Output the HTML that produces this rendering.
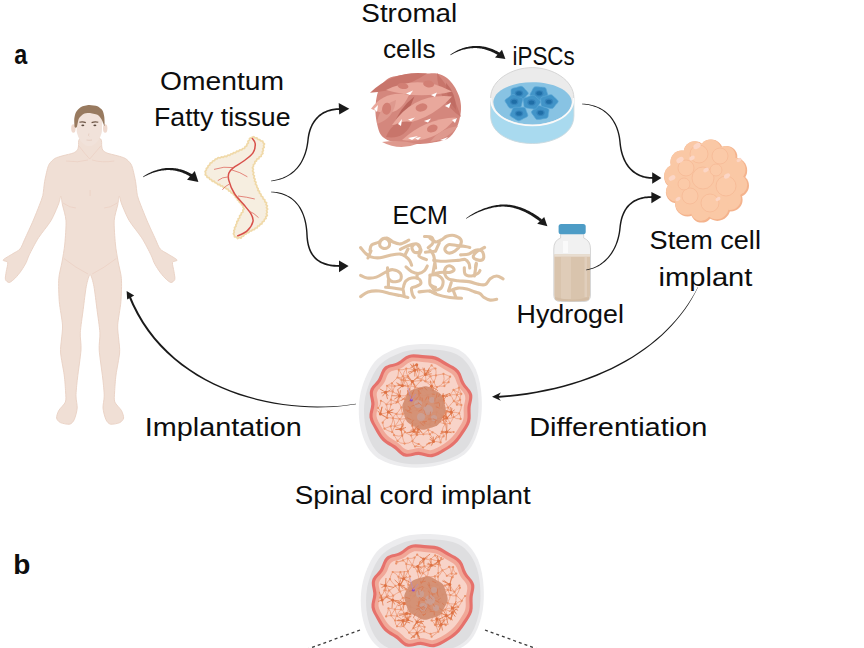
<!DOCTYPE html>
<html><head><meta charset="utf-8">
<style>
html,body{margin:0;padding:0;background:#fff;}
body{width:864px;height:648px;overflow:hidden;position:relative;}
svg{position:absolute;left:0;top:0;}
text{font-family:"Liberation Sans",sans-serif;fill:#0d0d0d;}
</style></head><body>
<svg width="864" height="648" viewBox="0 0 864 648">
<rect width="864" height="648" fill="#fff"/>
<path d="M90.1,138.0 C87.3,138.0 81.0,137.9 79.5,139.0 C78.0,140.1 78.8,144.5 78.5,146.0 C78.2,147.5 78.2,149.1 77.5,150.0 C76.8,150.9 75.2,152.2 73.3,153.0 C71.4,153.8 65.5,155.0 63.0,155.7 C60.5,156.4 56.6,157.4 54.8,158.5 C53.0,159.6 50.3,162.4 49.3,164.0 C48.3,165.6 47.6,168.1 47.0,170.5 C46.4,172.9 45.2,178.4 44.6,181.7 C44.0,185.0 43.5,192.3 42.8,195.5 C42.1,198.7 40.6,202.0 39.3,205.4 C38.0,208.8 35.0,216.3 33.1,220.8 C31.2,225.3 26.4,235.5 24.7,239.3 C23.0,243.1 21.7,247.0 20.0,249.0 C18.3,251.0 14.6,252.5 12.3,254.0 C10.0,255.5 3.7,258.9 3.1,260.0 C2.5,261.1 7.3,260.9 7.7,262.5 C8.1,264.1 6.5,269.4 6.2,271.7 C5.9,274.0 5.0,278.0 5.4,279.4 C5.8,280.8 8.0,282.7 9.3,282.5 C10.6,282.3 13.8,279.5 15.4,277.9 C17.0,276.3 20.2,272.3 21.6,270.2 C23.0,268.1 25.2,264.6 26.2,262.5 C27.2,260.4 27.7,258.1 29.3,254.8 C30.9,251.5 35.6,242.3 38.5,237.8 C41.4,233.3 48.2,225.3 50.9,220.8 C53.6,216.3 57.3,207.2 58.6,203.9 C59.9,200.6 60.4,196.1 60.9,196.2 C61.4,196.3 61.8,201.7 62.5,205.0 C63.2,208.3 65.7,215.6 66.0,220.8 C66.3,226.0 65.3,238.5 64.8,244.0 C64.3,249.5 62.8,257.4 62.0,262.0 C61.2,266.6 59.2,273.3 58.8,278.6 C58.4,283.9 58.8,295.6 59.3,301.8 C59.8,308.0 62.2,319.9 62.5,325.0 C62.8,330.1 61.7,336.3 61.4,340.0 C61.1,343.7 60.2,348.3 60.6,353.0 C61.0,357.7 63.5,369.8 64.2,375.0 C64.9,380.2 65.4,388.4 65.6,392.0 C65.8,395.6 66.3,399.6 65.4,402.0 C64.5,404.4 60.1,408.2 58.9,410.3 C57.7,412.4 56.4,416.4 56.6,418.0 C56.8,419.6 58.7,421.8 60.4,422.6 C62.1,423.4 67.8,424.6 69.7,424.2 C71.6,423.8 73.3,421.7 74.3,419.5 C75.3,417.3 77.0,411.1 77.2,408.0 C77.4,404.9 76.0,400.0 76.0,396.0 C76.0,392.0 76.8,384.1 77.5,378.0 C78.2,371.9 80.6,356.0 81.0,350.0 C81.4,344.0 80.0,338.1 80.3,332.7 C80.6,327.3 82.4,315.7 83.2,309.5 C84.0,303.3 85.4,291.0 86.3,286.3 C87.2,281.6 89.1,274.5 90.1,274.5 C91.1,274.5 93.0,281.6 93.9,286.3 C94.8,291.0 96.2,303.3 97.0,309.5 C97.8,315.7 99.6,327.3 99.9,332.7 C100.2,338.1 98.8,344.0 99.2,350.0 C99.6,356.0 102.0,371.9 102.7,378.0 C103.4,384.1 104.2,392.0 104.2,396.0 C104.2,400.0 102.8,404.9 103.0,408.0 C103.2,411.1 104.9,417.3 105.9,419.5 C106.9,421.7 108.6,423.8 110.5,424.2 C112.4,424.6 118.1,423.4 119.8,422.6 C121.5,421.8 123.4,419.6 123.6,418.0 C123.8,416.4 122.5,412.4 121.3,410.3 C120.1,408.2 115.7,404.4 114.8,402.0 C113.9,399.6 114.4,395.6 114.6,392.0 C114.8,388.4 115.3,380.2 116.0,375.0 C116.7,369.8 119.2,357.7 119.6,353.0 C120.0,348.3 119.1,343.7 118.8,340.0 C118.5,336.3 117.4,330.1 117.7,325.0 C118.0,319.9 120.4,308.0 120.9,301.8 C121.4,295.6 121.8,283.9 121.4,278.6 C121.0,273.3 119.0,266.6 118.2,262.0 C117.4,257.4 115.9,249.5 115.4,244.0 C114.9,238.5 113.9,226.0 114.2,220.8 C114.5,215.6 117.0,208.3 117.7,205.0 C118.4,201.7 118.8,196.3 119.3,196.2 C119.8,196.1 120.3,200.6 121.6,203.9 C122.9,207.2 126.6,216.3 129.3,220.8 C132.0,225.3 138.8,233.3 141.7,237.8 C144.6,242.3 149.3,251.5 150.9,254.8 C152.5,258.1 153.0,260.4 154.0,262.5 C155.0,264.6 157.2,268.1 158.6,270.2 C160.0,272.3 163.2,276.3 164.8,277.9 C166.4,279.5 169.6,282.3 170.9,282.5 C172.2,282.7 174.4,280.8 174.8,279.4 C175.2,278.0 174.3,274.0 174.0,271.7 C173.7,269.4 172.1,264.1 172.5,262.5 C172.9,260.9 177.7,261.1 177.1,260.0 C176.5,258.9 170.2,255.5 167.9,254.0 C165.6,252.5 161.9,251.0 160.2,249.0 C158.5,247.0 157.2,243.1 155.5,239.3 C153.8,235.5 149.0,225.3 147.1,220.8 C145.2,216.3 142.2,208.8 140.9,205.4 C139.6,202.0 138.1,198.7 137.4,195.5 C136.7,192.3 136.2,185.0 135.6,181.7 C135.0,178.4 133.8,172.9 133.2,170.5 C132.6,168.1 131.9,165.6 130.9,164.0 C129.9,162.4 127.2,159.6 125.4,158.5 C123.6,157.4 119.7,156.4 117.2,155.7 C114.7,155.0 108.8,153.8 106.9,153.0 C105.0,152.2 103.4,150.9 102.7,150.0 C102.0,149.1 102.0,147.5 101.7,146.0 C101.4,144.5 102.2,140.1 100.7,139.0 C99.2,137.9 92.9,138.0 90.1,138.0Z" fill="#f0dfd5" stroke="#e9d0c3" stroke-width="0.9"/>
<ellipse cx="73.4" cy="128.5" rx="2.2" ry="4.2" fill="#efd9ce"/>
<ellipse cx="105.2" cy="128.5" rx="2.2" ry="4.2" fill="#efd9ce"/>
<path d="M89.3,112.5 C86.5,112.5 81.9,112.4 80.0,113.5 C78.1,114.6 77.1,117.8 76.6,120.0 C76.1,122.2 76.5,126.0 76.6,128.0 C76.7,129.9 76.5,131.2 77.0,133.0 C77.5,134.8 78.7,138.1 79.8,139.8 C80.9,141.5 83.0,143.5 84.4,144.4 C85.8,145.3 87.8,146.0 89.3,146.0 C90.8,146.0 92.8,145.3 94.2,144.4 C95.6,143.5 97.7,141.5 98.8,139.8 C99.9,138.1 101.1,134.8 101.6,133.0 C102.1,131.2 101.9,129.9 102.0,128.0 C102.1,126.0 102.5,122.2 102.0,120.0 C101.5,117.8 100.5,114.6 98.6,113.5 C96.7,112.4 92.1,112.5 89.3,112.5Z" fill="#f1e2da"/>
<path d="M74.7,127.0 C74.4,126.0 74.1,120.2 74.3,118.5 C74.5,116.8 75.3,113.3 76.1,112.0 C76.9,110.7 79.5,107.8 81.0,107.0 C82.5,106.2 87.1,105.1 89.0,105.0 C90.9,104.9 95.9,105.7 97.5,106.3 C99.1,106.9 101.7,109.3 102.5,110.5 C103.3,111.7 104.1,115.2 104.3,117.0 C104.5,118.8 104.8,125.7 104.5,126.0 C104.2,126.3 102.4,120.7 101.6,119.4 C100.8,118.1 98.8,115.5 97.4,114.8 C96.0,114.1 90.9,113.1 89.3,113.0 C87.7,112.9 84.7,113.3 83.5,113.9 C82.3,114.5 79.7,117.0 78.9,118.5 C78.1,120.0 77.3,126.0 76.8,127.0 C76.3,128.0 75.0,128.0 74.7,127.0Z" fill="#987a5f"/>
<path d="M79.4,122.3 Q82.5,121.3 85.8,122.6 M91.6,122.6 Q95,121.3 98.3,122.3" stroke="#6e5646" stroke-width="1.2" fill="none"/>
<ellipse cx="82.8" cy="125.3" rx="1.5" ry="0.9" fill="#5c4a3e"/><ellipse cx="94.9" cy="125.3" rx="1.5" ry="0.9" fill="#5c4a3e"/>
<path d="M88.9,133.5 Q88,136 89.3,136.3 M86.5,140 Q89.3,140.6 92,140" stroke="#e2c7ba" stroke-width="0.7" fill="none"/>
<g stroke="#ebcfc1" stroke-width="0.7" fill="none"><path d="M79,146 Q85,154 89.7,159 Q94,154 100.8,146"/><path d="M66,161 Q78,163 88,160 M92.2,160 Q102,163 114.2,161"/><path d="M63,203 Q70,208 76,208 M117.2,203 Q110,208 104.2,208"/><path d="M63.9,258.5 Q76,268 88,274 M116.3,258.5 Q104,268 92.2,274"/><path d="M90.1,190 L90.1,196"/></g>
<path d="M252.0,137.4 L253.7,136.7 L255.0,138.0 L256.8,137.8 L257.8,139.5 L259.6,139.6 L260.8,140.9 L262.7,141.1 L263.2,142.9 L264.5,144.0 L263.5,145.6 L264.2,147.4 L262.7,148.7 L263.4,150.5 L262.3,151.9 L262.9,153.6 L261.4,154.6 L261.2,156.5 L259.3,156.8 L258.8,158.7 L256.8,159.1 L256.5,160.9 L254.9,161.6 L254.9,163.6 L253.4,164.6 L253.5,166.3 L252.4,167.7 L253.4,169.3 L252.5,171.0 L253.8,172.6 L253.0,174.5 L254.4,175.9 L253.7,177.8 L255.1,179.2 L254.5,181.0 L256.0,182.2 L255.4,184.2 L256.8,185.4 L256.9,187.3 L258.2,188.6 L257.9,190.4 L259.5,191.3 L259.4,193.1 L261.0,194.2 L261.1,196.1 L262.8,197.0 L263.1,198.9 L264.8,199.8 L264.8,201.7 L266.6,202.8 L266.0,204.6 L267.4,205.9 L266.4,207.6 L267.7,209.1 L266.5,210.7 L267.3,212.3 L266.3,213.8 L267.3,215.5 L265.7,216.7 L266.1,218.5 L264.4,219.3 L264.1,221.2 L262.3,221.9 L261.9,223.8 L260.2,224.2 L259.4,225.8 L257.7,226.0 L257.2,227.9 L255.3,228.0 L254.4,229.6 L252.6,229.5 L251.5,230.9 L249.8,231.0 L248.8,232.6 L246.9,232.4 L246.1,234.0 L244.3,234.5 L243.5,236.1 L241.8,236.4 L241.0,238.1 L239.3,237.5 L237.6,238.6 L236.4,236.9 L234.5,237.0 L234.3,235.1 L233.4,233.7 L234.3,232.2 L233.8,230.5 L234.8,229.2 L234.5,227.5 L236.0,226.4 L235.8,224.7 L236.9,223.5 L236.8,221.5 L238.4,220.5 L238.1,218.7 L239.8,217.8 L239.6,215.8 L241.2,214.8 L241.3,212.9 L243.0,212.0 L242.8,210.2 L244.2,208.8 L243.0,207.3 L243.4,205.4 L241.6,204.8 L241.2,203.0 L239.4,202.4 L239.0,200.7 L237.4,199.9 L237.3,198.0 L235.5,197.5 L235.1,195.6 L233.5,194.8 L232.9,193.2 L231.2,192.8 L230.4,191.1 L228.6,190.8 L228.0,189.0 L226.2,188.8 L225.2,187.3 L223.3,187.5 L222.4,185.9 L220.6,186.0 L219.6,184.3 L217.8,184.6 L216.8,183.1 L215.2,182.7 L214.3,181.2 L212.2,181.3 L211.5,179.6 L209.8,179.4 L209.1,177.7 L207.1,177.4 L206.7,175.7 L205.2,174.8 L205.7,173.1 L205.1,171.4 L206.4,170.2 L206.3,168.5 L207.9,167.5 L208.1,165.7 L209.7,165.0 L210.1,163.1 L211.9,162.7 L212.6,161.0 L214.5,160.7 L215.3,159.0 L217.0,158.8 L218.2,157.5 L220.0,158.0 L221.5,156.9 L223.2,157.4 L224.7,156.2 L226.7,156.6 L227.9,155.0 L229.7,155.4 L230.8,153.9 L232.6,154.0 L233.6,152.5 L235.5,152.9 L236.6,151.2 L238.5,151.3 L239.8,149.9 L241.7,150.0 L242.7,148.5 L244.5,148.5 L245.1,146.6 L246.8,146.0 L246.9,144.2 L248.4,143.0 L247.9,141.2 L249.5,140.3 L249.5,138.4 L251.0,137.7Z" fill="#f6eee0" stroke="#f0d9a8" stroke-width="1.7" stroke-linejoin="round"/>
<path d="M252.0,138.0 C252.5,138.9 255.0,141.0 255.2,143.5 C255.4,146.0 254.9,149.9 253.0,152.8 C251.1,155.7 246.9,158.5 243.7,161.0 C240.4,163.5 236.0,165.6 233.5,167.6 C231.0,169.6 229.7,170.8 228.9,173.0 C228.1,175.2 228.0,177.2 228.9,180.6 C229.8,184.0 231.9,189.5 234.4,193.5 C236.9,197.5 240.9,201.2 243.7,204.6 C246.5,208.0 249.4,211.1 251.0,213.9 C252.6,216.7 253.6,218.5 253.0,221.3 C252.4,224.1 250.0,228.1 247.4,230.6 C244.8,233.1 238.9,235.2 237.2,236.1" fill="none" stroke="#d8504a" stroke-width="1.5"/>
<g stroke="#de6a60" stroke-width="0.8" fill="none"><path d="M233.5,167.6 Q224,166 214,169.4"/><path d="M228.9,176.8 Q222,177 217.8,180.6"/><path d="M229.5,184 Q225,186 222.4,189.8"/><path d="M232,170 Q240,172 247.4,176.8"/><path d="M238,196 Q247,197 254.8,199"/><path d="M249,211 Q254,213 258.5,217.6"/></g>
<path d="M393.4,76.6 C397.3,75.5 402.9,74.7 408.2,74.2 C413.5,73.7 420.2,73.6 425.0,73.5 C429.8,73.4 433.3,72.8 437.0,73.5 C440.7,74.2 444.2,75.9 447.0,78.0 C449.8,80.1 452.0,83.0 454.0,86.0 C456.0,89.0 457.8,92.7 459.0,96.0 C460.2,99.3 460.8,102.5 461.0,106.0 C461.2,109.5 460.8,113.2 460.0,117.0 C459.2,120.8 458.2,125.3 456.0,129.0 C453.8,132.7 451.3,136.7 447.0,139.0 C442.7,141.3 435.0,142.2 430.0,143.0 C425.0,143.8 421.4,144.0 416.9,144.0 C412.4,144.0 407.5,143.5 403.0,143.0 C398.5,142.5 393.7,142.3 390.0,141.0 C386.3,139.7 383.1,137.7 381.0,135.0 C378.9,132.3 378.2,128.7 377.3,125.0 C376.4,121.3 375.7,117.0 375.5,113.0 C375.3,109.0 375.4,105.0 376.0,101.0 C376.6,97.0 377.5,92.3 379.0,89.0 C380.5,85.7 382.6,83.1 385.0,81.0 C387.4,78.9 389.5,77.7 393.4,76.6Z" fill="#d4877d"/>
<path d="M370.0,92.7 Q401.1,90.7 427.0,73.5 Q394.0,69.8 370.0,92.7Z" fill="#c8756b"/>
<path d="M437.0,73.0 Q437.6,101.2 461.0,117.0 Q453.4,92.6 437.0,73.0Z" fill="#c8756b"/>
<path d="M446.0,82.8 Q445.4,98.5 456.0,110.0 Q456.6,94.3 446.0,82.8Z" fill="#c06c63"/>
<path d="M386.0,90.0 Q418.8,99.7 452.0,91.5 Q419.4,73.8 386.0,90.0Z" fill="#e9a89c"/>
<path d="M371.0,108.7 Q397.1,121.6 409.0,95.0 Q385.6,89.6 371.0,108.7Z" fill="#e9a89c"/>
<path d="M377.0,124.0 Q394.3,118.2 396.0,100.0 Q378.7,105.8 377.0,124.0Z" fill="#de998e"/>
<path d="M393.4,126.0 Q408.5,114.4 414.4,96.4 Q399.3,108.0 393.4,126.0Z" fill="#b9645b"/>
<path d="M392.0,125.0 Q428.0,123.3 452.0,96.4 Q413.4,92.6 392.0,125.0Z" fill="#e9a89c"/>
<path d="M386.0,137.0 Q405.0,139.9 412.0,122.0 Q393.0,119.1 386.0,137.0Z" fill="#c8756b"/>
<path d="M402.0,140.0 Q435.6,144.4 456.0,117.4 Q424.8,118.6 402.0,140.0Z" fill="#e9a89c"/>
<path d="M382.0,142.0 Q399.0,151.0 417.0,144.0 Q399.7,139.0 382.0,142.0Z" fill="#de998e"/>
<path d="M430.0,142.0 Q447.5,140.1 458.0,126.0 Q440.5,127.9 430.0,142.0Z" fill="#de998e"/>
<ellipse cx="403" cy="86" rx="5.5" ry="3" fill="#d27f74" transform="rotate(10 403 86)"/>
<ellipse cx="428.6" cy="84" rx="5.5" ry="3.5" fill="#d27f74" transform="rotate(10 428.6 84)"/>
<ellipse cx="386.6" cy="108.7" rx="4.5" ry="6" fill="#d27f74" transform="rotate(10 386.6 108.7)"/>
<ellipse cx="421.5" cy="107.5" rx="6" ry="4" fill="#d27f74" transform="rotate(-15 421.5 107.5)"/>
<ellipse cx="432.3" cy="128.5" rx="5.5" ry="3.8" fill="#d27f74" transform="rotate(-20 432.3 128.5)"/>
<g fill="#fff"><path d="M406,93.5 L413,90.5 L410,95Z"/><path d="M431,95 L437,92.5 L435,97Z"/><path d="M445,106 L451,102.5 L449,108Z"/><path d="M408,119.5 L415,117.5 L411,121Z"/><path d="M424,121 L431,118.5 L428,122.5Z"/><path d="M408,138 L418,136 L412,140Z"/><path d="M374,109 L378,105 L377,112Z"/><path d="M415,138 L421,137 L418,140Z"/><path d="M452,120 L457,118 L455,123Z"/><path d="M398,124 L402,119 L401,126Z"/><path d="M440,140 L448,137 L444,141Z"/></g>
<path d="M490.6,98 L490.6,116 C491,136 515,143.5 532.2,143.5 C549.5,143.5 573.5,136 573.9,116 L573.9,98Z" fill="#a9daef" stroke="#cbd9df" stroke-width="0.9"/>
<path d="M490.6,98 C490.6,80 512,67.6 532.2,67.6 C552.5,67.6 573.9,80 573.9,98 C573.5,118 549.5,125.5 532.2,125.5 C515,125.5 491,118 490.6,98Z" fill="#ebebeb" stroke="#d2d2d2" stroke-width="0.9"/>
<path d="M493.3,102 C494,90 512,82.2 532.4,82.2 C553,82.2 571,90 571.8,102 C571,117 549.5,124.5 532.2,124.5 C515,124.5 494,117 493.3,102Z" fill="#88c3e3"/>
<path d="M490.8,98 C491,118 515,125.5 532.2,125.5 C549.5,125.5 573.5,118 573.7,98" fill="none" stroke="#fafafa" stroke-width="1.7"/>
<path d="M528.3,93.3 C528.3,94.4 526.3,95.9 525.4,96.9 C524.4,98.0 523.2,99.9 521.9,100.2 C520.6,100.6 518.1,99.6 516.6,99.2 C515.0,98.8 512.3,98.5 511.5,97.6 C510.7,96.7 511.1,94.6 511.1,93.3 C511.1,92.0 510.7,89.9 511.5,89.0 C512.3,88.1 515.0,87.8 516.6,87.4 C518.1,87.0 520.6,86.0 521.9,86.4 C523.2,86.7 524.4,88.6 525.4,89.7 C526.3,90.7 528.3,92.2 528.3,93.3Z" fill="#4194c8" stroke="#5aa6d6" stroke-width="0.7"/>
<path d="M547.8,96.1 C547.2,97.1 544.7,97.9 543.3,98.6 C541.9,99.3 539.8,100.6 538.4,100.6 C537.0,100.5 535.3,98.8 534.0,98.0 C532.8,97.1 530.5,96.0 530.1,94.9 C529.8,93.9 531.3,92.1 531.9,90.9 C532.6,89.7 533.2,87.6 534.4,87.1 C535.6,86.5 538.2,87.0 539.9,87.1 C541.5,87.3 544.2,87.1 545.3,87.8 C546.3,88.5 546.5,90.7 546.9,91.9 C547.3,93.2 548.3,95.1 547.8,96.1Z" fill="#4194c8" stroke="#5aa6d6" stroke-width="0.7"/>
<path d="M520.7,106.9 C519.7,107.7 516.9,107.6 515.3,107.8 C513.7,108.0 511.1,108.6 509.9,108.1 C508.6,107.6 507.8,105.6 507.1,104.4 C506.4,103.3 504.8,101.5 505.0,100.5 C505.3,99.4 507.5,98.2 508.7,97.3 C509.9,96.4 511.5,94.6 512.9,94.5 C514.3,94.3 516.4,95.6 517.9,96.2 C519.3,96.8 521.9,97.5 522.5,98.5 C523.2,99.5 522.2,101.5 522.0,102.8 C521.7,104.0 521.7,106.2 520.7,106.9Z" fill="#4194c8" stroke="#5aa6d6" stroke-width="0.7"/>
<path d="M552.3,108.5 C551.0,108.9 548.5,108.0 546.9,107.7 C545.3,107.3 542.6,107.1 541.7,106.3 C540.8,105.5 541.1,103.3 541.0,102.0 C540.9,100.8 540.3,98.7 541.1,97.8 C541.8,96.8 544.5,96.4 546.0,95.9 C547.6,95.5 549.9,94.4 551.3,94.7 C552.6,94.9 554.0,96.8 555.0,97.8 C556.0,98.8 558.1,100.2 558.2,101.3 C558.3,102.4 556.4,104.0 555.5,105.0 C554.6,106.1 553.6,108.1 552.3,108.5Z" fill="#4194c8" stroke="#5aa6d6" stroke-width="0.7"/>
<path d="M518.7,120.8 C517.3,120.7 515.5,119.2 514.2,118.4 C512.9,117.6 510.5,116.6 510.1,115.5 C509.7,114.5 511.0,112.6 511.6,111.4 C512.1,110.2 512.6,108.1 513.8,107.5 C514.9,106.9 517.6,107.3 519.2,107.3 C520.9,107.4 523.6,107.1 524.7,107.7 C525.8,108.4 526.1,110.5 526.6,111.8 C527.0,113.0 528.2,114.9 527.8,116.0 C527.3,117.0 524.8,117.9 523.4,118.6 C522.1,119.3 520.1,120.8 518.7,120.8Z" fill="#4194c8" stroke="#5aa6d6" stroke-width="0.7"/>
<path d="M536.7,119.4 C535.5,119.0 534.5,117.0 533.7,115.8 C532.9,114.7 531.2,113.0 531.4,112.0 C531.5,110.9 533.7,109.6 534.8,108.6 C535.9,107.7 537.4,105.9 538.8,105.7 C540.1,105.4 542.4,106.7 543.9,107.2 C545.4,107.7 548.0,108.3 548.7,109.2 C549.4,110.2 548.6,112.2 548.4,113.5 C548.2,114.8 548.4,116.9 547.4,117.7 C546.5,118.5 543.8,118.6 542.2,118.9 C540.6,119.1 538.0,119.9 536.7,119.4Z" fill="#4194c8" stroke="#5aa6d6" stroke-width="0.7"/>
<path d="M524.6,107.3 C523.7,106.5 523.9,104.4 523.7,103.1 C523.5,101.8 522.7,99.8 523.4,98.8 C524.1,97.9 526.7,97.3 528.2,96.8 C529.7,96.2 532.0,95.0 533.4,95.3 C534.7,95.5 536.2,97.3 537.3,98.2 C538.4,99.2 540.6,100.5 540.7,101.6 C540.9,102.7 539.2,104.3 538.4,105.4 C537.6,106.6 536.6,108.6 535.4,109.0 C534.1,109.5 531.5,108.7 529.9,108.5 C528.3,108.2 525.6,108.1 524.6,107.3Z" fill="#4194c8" stroke="#5aa6d6" stroke-width="0.7"/>
<ellipse cx="519" cy="93.3" rx="4.2" ry="3.1" fill="#3583bb"/>
<ellipse cx="519" cy="93.3" rx="2.8" ry="2" fill="#1f6ea6"/>
<ellipse cx="539.2" cy="93.3" rx="4.2" ry="3.1" fill="#3583bb"/>
<ellipse cx="539.2" cy="93.3" rx="2.8" ry="2" fill="#1f6ea6"/>
<ellipse cx="514.2" cy="101.7" rx="4.2" ry="3.1" fill="#3583bb"/>
<ellipse cx="514.2" cy="101.7" rx="2.8" ry="2" fill="#1f6ea6"/>
<ellipse cx="548.9" cy="101.7" rx="4.2" ry="3.1" fill="#3583bb"/>
<ellipse cx="548.9" cy="101.7" rx="2.8" ry="2" fill="#1f6ea6"/>
<ellipse cx="519" cy="113.5" rx="4.2" ry="3.1" fill="#3583bb"/>
<ellipse cx="519" cy="113.5" rx="2.8" ry="2" fill="#1f6ea6"/>
<ellipse cx="540.6" cy="112.8" rx="4.2" ry="3.1" fill="#3583bb"/>
<ellipse cx="540.6" cy="112.8" rx="2.8" ry="2" fill="#1f6ea6"/>
<ellipse cx="531.5" cy="102.4" rx="4.2" ry="3.1" fill="#3583bb"/>
<ellipse cx="531.5" cy="102.4" rx="2.8" ry="2" fill="#1f6ea6"/>
<g fill="none" stroke="#dfc2a2" stroke-width="3.1" stroke-linecap="round" stroke-linejoin="round">
<path d="M360.6,247.6 C361.4,248.5 363.6,251.6 365.3,253.1 C367.0,254.6 368.4,256.1 370.8,256.9 C373.2,257.7 376.6,258.1 380.0,257.8 C383.4,257.5 387.8,255.6 391.2,255.0 C394.6,254.4 397.9,253.8 400.4,254.1 C402.9,254.4 404.4,255.8 406.0,256.9 C407.6,258.0 408.8,259.2 409.7,260.6 C410.6,262.0 411.3,264.4 411.6,265.2"/>
<path d="M369.9,250.4 C370.2,249.5 370.2,246.2 371.7,244.8 C373.2,243.4 377.2,243.1 379.1,242.0 C381.0,240.9 381.5,238.8 383.0,238.5 C384.5,238.2 386.9,238.8 388.0,240.0 C389.1,241.2 390.0,244.1 389.5,245.5 C389.0,246.9 386.6,248.4 385.0,248.5 C383.4,248.6 380.7,247.3 380.0,246.0 C379.3,244.7 379.8,241.8 381.0,240.5 C382.2,239.2 385.0,237.8 387.0,238.0 C389.0,238.2 390.8,241.0 393.0,242.0 C395.2,243.0 397.8,244.2 400.4,243.9 C403.0,243.6 407.4,240.8 408.8,240.2"/>
<path d="M400.4,249.4 C401.6,248.8 405.3,246.6 407.9,245.7 C410.5,244.8 414.2,243.7 416.2,243.9 C418.2,244.1 419.5,245.7 420.0,247.0 C420.5,248.3 420.0,251.2 419.0,252.0 C418.0,252.8 415.2,252.8 414.0,252.0 C412.8,251.2 411.6,248.3 412.0,247.0 C412.4,245.7 414.7,243.4 416.2,243.9 C417.7,244.4 420.5,248.0 421.0,250.0 C421.5,252.0 418.1,254.3 419.0,255.9 C419.9,257.5 425.2,259.0 426.4,259.6"/>
<path d="M424.5,236.5 C425.7,236.7 430.5,236.3 431.9,237.4 C433.3,238.5 433.5,241.3 432.9,243.0 C432.3,244.7 429.0,246.8 428.2,247.6"/>
<path d="M425.4,252.2 C426.9,252.0 433.1,251.5 434.7,251.3"/>
<path d="M360.6,275.3 C361.7,275.8 364.5,277.7 367.1,278.0 C369.7,278.3 373.1,278.2 376.4,277.1 C379.6,276.0 383.8,272.8 386.6,271.6 C389.4,270.4 390.7,269.4 393.0,269.7 C395.3,270.0 399.2,271.7 400.4,273.4 C401.6,275.1 401.6,278.5 400.4,279.9 C399.2,281.3 395.0,282.0 393.0,281.7 C391.0,281.4 389.3,280.3 388.4,278.0 C387.5,275.7 387.6,269.6 387.5,267.9"/>
<path d="M360.6,296.6 C361.8,295.8 364.9,292.8 368.0,291.9 C371.1,291.0 375.2,290.7 379.1,291.0 C383.0,291.3 387.6,293.0 391.2,293.8 C394.8,294.6 397.6,295.0 400.4,295.6 C403.2,296.2 406.6,297.2 407.9,297.5"/>
<path d="M385.6,287.3 C387.2,287.4 392.1,287.9 394.9,288.2 C397.7,288.5 400.8,289.7 402.3,289.1 C403.8,288.5 403.5,285.9 404.1,284.5 C404.7,283.1 404.8,281.9 406.0,280.8 C407.2,279.7 409.4,278.3 411.6,278.0 C413.8,277.7 417.5,278.1 419.0,279.0 C420.5,279.9 421.3,282.4 420.8,283.6 C420.3,284.8 417.7,285.6 416.2,286.4 C414.7,287.2 412.2,286.8 411.6,288.2 C411.0,289.6 412.1,293.1 412.5,294.7 C412.9,296.2 414.0,297.0 414.3,297.5"/>
<path d="M406.0,266.9 C406.9,267.7 409.4,270.5 411.6,271.6 C413.8,272.7 416.9,273.6 419.0,273.4 C421.1,273.2 423.1,271.8 424.5,270.6 C425.9,269.4 426.8,266.8 427.3,266.0"/>
<path d="M419.0,291.9 C420.5,291.8 425.4,290.8 428.2,291.0 C431.0,291.2 434.4,292.6 435.6,292.9"/>
<path d="M430.1,275.3 C430.1,276.8 429.2,282.5 430.1,284.5 C431.0,286.5 434.7,286.8 435.6,287.3"/>
<path d="M430.0,238.2 C430.9,238.8 433.8,241.6 435.6,241.9 C437.5,242.2 439.2,240.9 441.1,240.0 C443.0,239.1 444.5,237.1 446.7,236.3 C448.9,235.5 451.8,234.9 454.1,235.4 C456.4,235.9 459.5,237.6 460.6,239.1 C461.7,240.6 461.5,242.7 460.6,244.7 C459.7,246.7 457.0,249.7 455.0,251.1 C453.0,252.5 450.2,253.3 448.5,253.0 C446.8,252.7 444.8,250.7 444.8,249.3 C444.8,247.9 446.5,245.3 448.5,244.7 C450.5,244.1 454.1,245.3 456.9,245.6 C459.7,245.9 463.0,246.2 465.2,246.5 C467.4,246.8 469.0,247.2 469.8,247.4"/>
<path d="M460.6,254.9 C462.0,254.7 466.4,254.7 468.9,253.9 C471.4,253.1 473.2,250.7 475.4,250.2 C477.6,249.7 480.5,249.9 481.9,251.1 C483.3,252.3 484.0,256.1 483.7,257.6 C483.4,259.2 481.7,260.4 480.0,260.4 C478.3,260.4 474.1,259.0 473.5,257.6 C472.9,256.2 474.4,253.7 476.3,252.0 C478.2,250.3 483.2,248.2 484.6,247.4"/>
<path d="M433.7,260.4 C435.4,260.5 439.9,261.3 443.9,261.3 C447.9,261.3 454.2,260.7 457.8,260.4 C461.4,260.1 463.4,259.0 465.2,259.5 C467.0,260.0 468.1,261.8 468.9,263.2 C469.7,264.6 469.6,267.2 469.8,268.0"/>
<path d="M430.0,250.2 C430.6,251.1 432.8,252.8 433.7,255.8 C434.6,258.8 435.3,266.0 435.6,268.0"/>
<path d="M439.3,242.8 C438.7,244.2 436.2,249.7 435.6,251.1"/>
<path d="M476.3,263.2 C476.1,264.0 475.5,267.2 475.4,268.0"/>
<path d="M430.0,275.1 C431.2,275.1 435.2,274.2 437.4,275.1 C439.6,276.0 442.4,278.5 443.0,280.7 C443.6,282.9 442.5,286.6 441.1,288.1 C439.7,289.6 436.3,290.4 434.6,289.9 C432.9,289.4 431.5,286.1 430.9,285.3"/>
<path d="M430.0,290.9 C431.2,291.5 434.3,293.5 437.4,294.6 C440.5,295.7 444.5,296.7 448.5,297.3 C452.5,297.9 459.3,298.1 461.5,298.3"/>
<path d="M435.6,273.3 C436.8,273.1 440.5,272.5 443.0,272.3 C445.5,272.1 448.5,272.8 450.4,272.3 C452.2,271.9 454.1,270.7 454.1,269.6 C454.1,268.5 451.8,266.2 450.4,265.9 C449.0,265.6 446.6,266.3 445.7,267.7 C444.8,269.1 444.3,272.3 444.8,274.2 C445.3,276.1 446.3,277.7 448.5,278.8 C450.7,279.9 454.4,280.2 457.8,280.7 C461.2,281.2 465.3,281.0 468.9,281.6 C472.4,282.2 476.3,283.9 479.1,284.4 C481.9,284.9 483.8,285.3 485.6,284.4 C487.5,283.5 488.4,280.2 490.2,278.8 C492.0,277.4 494.5,276.0 496.7,276.0 C498.9,276.0 502.0,278.3 503.1,278.8"/>
<path d="M464.3,267.7 C464.4,268.8 464.0,272.8 465.2,274.2 C466.4,275.6 469.5,276.1 471.7,276.0 C473.9,275.9 476.7,274.2 478.1,273.3 C479.5,272.4 479.7,271.0 480.0,270.5"/>
<path d="M449.4,290.9 C450.8,290.4 454.9,288.4 457.8,288.1 C460.7,287.8 464.2,288.4 467.0,289.0 C469.8,289.6 472.2,291.0 474.4,291.8 C476.6,292.6 478.4,292.7 480.0,293.6 C481.6,294.5 482.0,296.2 483.7,297.3 C485.4,298.4 488.0,299.8 490.2,300.1 C492.4,300.4 495.6,299.4 496.7,299.2"/>
<path d="M476.3,264.0 C476.0,266.0 474.7,274.0 474.4,276.0"/>
<path d="M451.3,282.5 C450.8,283.9 449.0,289.5 448.5,290.9"/>
<path d="M453.1,290.0 C453.6,291.2 455.4,296.1 455.9,297.3"/>
<path d="M434.6,264.0 C434.3,265.7 433.1,272.5 432.8,274.2"/>
<path d="M388.4,279.9 C388.4,281.0 388.4,285.3 388.4,286.4"/>
<path d="M403.2,290.0 C403.4,290.9 404.0,294.7 404.1,295.6"/>
<path d="M417.1,275.3 C417.1,275.8 417.1,277.6 417.1,278.0"/>
<path d="M371.0,251.0 C370.5,252.2 368.5,256.8 368.0,258.0"/>
<path d="M405.0,255.0 C405.5,254.0 407.5,250.0 408.0,249.0"/>
</g>
<path d="M560.6,233 L583.7,233 L583.7,238 Q590.5,240.5 590.5,249 L590.5,295 Q590.5,301.5 584,301.5 L560.3,301.5 Q553.8,301.5 553.8,295 L553.8,249 Q553.8,240.5 560.6,238Z" fill="#f1f1f1" stroke="#d6d6d6" stroke-width="1"/>
<path d="M554.3,254.5 L590,254.5 L590,295 Q590,301 584,301 L560.3,301 Q554.3,301 554.3,295Z" fill="#d9c4ad"/>
<rect x="554.3" y="254.5" width="35.7" height="2.2" fill="#e8ddd0"/>
<rect x="561" y="257" width="10" height="42" fill="#e0cfbc" opacity="0.75"/>
<rect x="584.5" y="257" width="2.5" height="40" fill="#e2d3c2" opacity="0.7"/>
<path d="M555,297 Q572,302 589,297 L589,300 Q572,303 555,300Z" fill="#cfb79e" opacity="0.6"/>
<rect x="563" y="241" width="5" height="12" fill="#fafafa"/>
<rect x="558.6" y="224.1" width="27.1" height="10.2" rx="2.5" fill="#4d9cc6"/>
<g fill="#f4b38d">
<circle cx="711.1" cy="151.3" r="11.9"/>
<circle cx="726.4" cy="156.8" r="10.9"/>
<circle cx="734.3" cy="170.4" r="12.9"/>
<circle cx="737.6" cy="185.6" r="11.4"/>
<circle cx="730.7" cy="199.7" r="11.9"/>
<circle cx="717.4" cy="208.0" r="12.9"/>
<circle cx="701.7" cy="211.7" r="10.9"/>
<circle cx="687.5" cy="204.1" r="12.4"/>
<circle cx="676.8" cy="192.3" r="10.9"/>
<circle cx="677.0" cy="176.7" r="12.9"/>
<circle cx="682.3" cy="162.3" r="11.9"/>
<circle cx="695.0" cy="152.6" r="11.4"/>
<circle cx="706.5" cy="181" r="32"/>
</g>
<g fill="#fac8a5">
<circle cx="710.3" cy="150.5" r="11.0"/>
<circle cx="725.6" cy="156.0" r="10.0"/>
<circle cx="733.5" cy="169.6" r="12.0"/>
<circle cx="736.8" cy="184.8" r="10.5"/>
<circle cx="729.9" cy="198.9" r="11.0"/>
<circle cx="716.6" cy="207.2" r="12.0"/>
<circle cx="700.9" cy="210.9" r="10.0"/>
<circle cx="686.7" cy="203.3" r="11.5"/>
<circle cx="676.0" cy="191.5" r="10.0"/>
<circle cx="676.2" cy="175.9" r="12.0"/>
<circle cx="681.5" cy="161.5" r="11.0"/>
<circle cx="694.2" cy="151.8" r="10.5"/>
<circle cx="706.0" cy="180.5" r="31"/>
</g>
<circle cx="699" cy="154" r="9" fill="#fbcaa8" stroke="#f5b893" stroke-width="0.7"/>
<circle cx="720" cy="156" r="8" fill="#fbcaa8" stroke="#f5b893" stroke-width="0.7"/>
<circle cx="686" cy="168" r="8" fill="#fbcaa8" stroke="#f5b893" stroke-width="0.7"/>
<circle cx="703" cy="178" r="11" fill="#fbcaa8" stroke="#f5b893" stroke-width="0.7"/>
<circle cx="726" cy="186" r="10" fill="#fbcaa8" stroke="#f5b893" stroke-width="0.7"/>
<circle cx="690" cy="196" r="8" fill="#fbcaa8" stroke="#f5b893" stroke-width="0.7"/>
<circle cx="710" cy="203" r="9" fill="#fbcaa8" stroke="#f5b893" stroke-width="0.7"/>
<circle cx="684" cy="184" r="6" fill="#fbcaa8" stroke="#f5b893" stroke-width="0.7"/>
<circle cx="716" cy="170" r="6" fill="#fbcaa8" stroke="#f5b893" stroke-width="0.7"/>
<ellipse cx="697" cy="146" rx="3.9000000000000004" ry="2.6" fill="#fcd6c6" transform="rotate(-30 697 146)"/>
<ellipse cx="680" cy="160" rx="3.9000000000000004" ry="2.6" fill="#fcd6c6" transform="rotate(-30 680 160)"/>
<ellipse cx="692" cy="158" rx="3.0" ry="2" fill="#fcd6c6" transform="rotate(-30 692 158)"/>
<ellipse cx="672" cy="178" rx="3.5999999999999996" ry="2.4" fill="#fcd6c6" transform="rotate(-30 672 178)"/>
<ellipse cx="706" cy="170" rx="3.0" ry="2" fill="#fcd6c6" transform="rotate(-30 706 170)"/>
<ellipse cx="727" cy="176" rx="3.3000000000000003" ry="2.2" fill="#fcd6c6" transform="rotate(-30 727 176)"/>
<ellipse cx="678" cy="199" rx="2.7" ry="1.8" fill="#fcd6c6" transform="rotate(-30 678 199)"/>
<ellipse cx="718" cy="199" rx="2.7" ry="1.8" fill="#fcd6c6" transform="rotate(-30 718 199)"/>
<ellipse cx="739" cy="160" rx="2.7" ry="1.8" fill="#fcd6c6" transform="rotate(-30 739 160)"/>
<path d="M421.2,344.0 C411.2,344.2 403.0,345.7 395.0,349.0 C387.0,352.3 378.8,356.2 373.0,364.0 C367.2,371.8 362.0,385.0 360.0,396.0 C358.0,407.0 358.5,420.0 361.0,430.0 C363.5,440.0 367.7,449.8 375.0,456.0 C382.3,462.2 394.3,465.5 405.0,467.0 C415.7,468.5 428.7,467.5 439.0,465.0 C449.3,462.5 460.2,458.8 467.0,452.0 C473.8,445.2 477.7,434.3 480.0,424.0 C482.3,413.7 482.2,400.0 481.0,390.0 C479.8,380.0 477.3,371.0 473.0,364.0 C468.7,357.0 463.6,351.3 455.0,348.0 C446.4,344.7 431.2,343.8 421.2,344.0Z" fill="#ececee"/>
<path d="M422.1,349.3 C412.8,349.4 405.2,350.8 397.8,353.9 C390.3,357.0 382.7,360.6 377.3,367.9 C371.9,375.2 367.1,387.4 365.2,397.6 C363.3,407.9 363.8,419.9 366.1,429.2 C368.5,438.6 372.3,447.7 379.1,453.4 C386.0,459.2 397.1,462.3 407.1,463.7 C417.0,465.1 429.1,464.1 438.7,461.8 C448.3,459.5 458.4,456.1 464.7,449.7 C471.1,443.4 474.6,433.3 476.8,423.7 C479.0,414.1 478.8,401.4 477.7,392.1 C476.6,382.8 474.3,374.4 470.3,367.9 C466.3,361.4 461.6,356.1 453.6,353.0 C445.5,349.9 431.4,349.1 422.1,349.3Z" fill="#dedee0"/>
<path d="M470.2,421.4 C469.0,425.6 466.1,429.5 463.7,433.2 C461.3,436.9 458.7,440.7 455.5,443.8 C452.3,446.8 448.4,449.4 444.6,451.6 C440.7,453.8 436.5,456.6 432.1,457.2 C427.8,457.8 423.2,455.1 418.6,455.0 C414.1,454.9 409.0,457.7 404.8,456.6 C400.7,455.5 397.5,451.0 393.8,448.4 C390.2,445.8 385.8,444.1 382.7,441.0 C379.6,437.9 377.4,433.8 375.2,429.9 C373.0,426.0 370.1,421.9 369.5,417.6 C368.9,413.3 371.2,408.7 371.3,404.1 C371.4,399.6 368.9,394.5 370.1,390.4 C371.2,386.3 375.7,383.2 378.1,379.3 C380.5,375.5 381.3,370.0 384.5,367.1 C387.7,364.3 393.4,364.3 397.4,362.3 C401.5,360.2 404.7,356.1 408.9,354.9 C413.1,353.7 418.0,354.7 422.4,355.0 C426.9,355.3 431.6,355.3 435.8,356.6 C440.0,358.0 443.6,360.8 447.5,363.1 C451.3,365.5 456.0,367.2 458.8,370.5 C461.6,373.8 462.2,378.9 464.4,382.8 C466.6,386.8 471.1,390.1 472.1,394.3 C473.1,398.4 470.9,403.4 470.6,407.9 C470.3,412.4 471.3,417.2 470.2,421.4Z" fill="#e6716b"/>
<path d="M467.1,420.4 C466.1,424.4 463.3,428.0 461.0,431.5 C458.7,435.0 456.3,438.6 453.3,441.4 C450.3,444.3 446.7,446.7 443.1,448.8 C439.4,450.9 435.5,453.6 431.4,454.1 C427.4,454.6 423.0,451.9 418.7,451.8 C414.5,451.7 409.7,454.6 405.8,453.6 C401.9,452.5 399.0,448.1 395.5,445.6 C392.1,443.2 388.0,441.7 385.1,438.8 C382.1,436.0 380.1,432.1 378.0,428.4 C375.9,424.8 373.2,420.9 372.6,416.9 C372.0,412.9 374.4,408.5 374.5,404.2 C374.6,400.0 372.1,395.2 373.1,391.3 C374.2,387.5 378.6,384.7 380.9,381.0 C383.1,377.4 383.6,372.1 386.7,369.5 C389.7,366.8 395.1,367.0 398.9,365.1 C402.7,363.2 405.7,359.2 409.6,358.0 C413.5,356.9 418.1,357.9 422.3,358.2 C426.5,358.5 430.9,358.4 434.8,359.7 C438.7,360.9 442.2,363.7 445.8,365.8 C449.4,368.0 453.8,369.6 456.4,372.7 C459.1,375.8 459.5,380.6 461.6,384.3 C463.7,388.0 468.0,391.1 469.0,395.0 C469.9,398.9 467.7,403.6 467.4,407.8 C467.1,412.0 468.2,416.5 467.1,420.4Z" fill="#f1a898"/>
<path d="M463.3,419.2 C462.3,422.9 459.9,426.3 457.8,429.5 C455.7,432.7 453.4,435.8 450.6,438.5 C447.9,441.2 444.7,443.5 441.3,445.5 C438.0,447.4 434.3,449.7 430.5,450.2 C426.8,450.6 422.8,448.1 418.9,448.1 C415.0,448.0 410.5,450.7 407.0,449.8 C403.4,448.8 400.7,444.8 397.5,442.5 C394.4,440.2 390.7,438.7 388.0,436.1 C385.3,433.5 383.2,430.0 381.3,426.7 C379.4,423.3 377.0,419.7 376.5,416.0 C376.0,412.3 378.2,408.3 378.2,404.4 C378.3,400.5 376.0,396.1 376.9,392.5 C377.9,389.0 381.9,386.4 384.0,383.0 C386.1,379.7 386.6,374.8 389.4,372.4 C392.2,370.0 397.1,370.1 400.7,368.4 C404.2,366.7 406.9,363.0 410.5,361.9 C414.1,360.8 418.3,361.7 422.2,361.9 C426.0,362.2 430.1,362.3 433.7,363.5 C437.3,364.7 440.5,367.0 443.8,369.0 C447.1,371.0 451.1,372.6 453.5,375.4 C455.9,378.3 456.4,382.7 458.3,386.1 C460.2,389.5 464.2,392.3 465.1,395.9 C466.0,399.5 464.0,403.8 463.7,407.7 C463.4,411.5 464.3,415.6 463.3,419.2Z" fill="#f8d3c8"/>
<path d="M416.7,364.8Q416.9,368.0 414.8,370.3M416.7,364.8Q418.7,368.2 419.4,369.8M431.6,365.3Q428.5,368.3 427.6,371.1M431.6,365.3Q433.5,367.9 435.5,368.5M398.7,369.8Q403.4,370.2 406.3,368.6M398.7,369.8Q398.3,374.9 397.5,377.5M398.7,369.8Q401.3,373.6 402.9,376.3M406.3,368.6Q409.7,368.1 414.8,370.3M406.3,368.6Q403.5,372.0 402.9,376.3M406.3,368.6Q406.0,373.5 408.1,376.4M414.8,370.3Q417.3,370.4 419.4,369.8M414.8,370.3Q416.6,374.6 417.6,377.7M419.4,369.8Q423.5,369.0 427.6,371.1M419.4,369.8Q419.4,374.5 417.6,377.7M419.4,369.8Q422.4,372.3 425.4,374.6M427.6,371.1Q432.0,368.5 435.5,368.5M427.6,371.1Q427.2,372.1 425.4,374.6M427.6,371.1Q427.8,373.0 430.5,376.3M435.5,368.5Q436.4,371.1 435.9,375.4M397.5,377.5Q400.9,378.3 402.9,376.3M397.5,377.5Q394.7,380.1 391.9,383.3M397.5,377.5Q399.4,379.4 401.5,380.1M397.5,377.5Q402.1,379.3 405.1,380.5M402.9,376.3Q405.9,375.1 408.1,376.4M402.9,376.3Q401.1,377.4 401.5,380.1M402.9,376.3Q404.7,377.8 405.1,380.5M408.1,376.4Q405.0,376.8 401.5,380.1M408.1,376.4Q405.3,377.8 405.1,380.5M408.1,376.4Q410.7,379.6 412.3,381.6M417.6,377.7Q422.1,375.5 425.4,374.6M417.6,377.7Q415.0,379.5 412.3,381.6M417.6,377.7Q419.2,378.0 420.9,380.6M417.6,377.7Q422.7,378.6 425.3,381.3M425.4,374.6Q429.4,376.8 430.5,376.3M425.4,374.6Q421.7,377.5 420.9,380.6M425.4,374.6Q426.3,379.3 425.3,381.3M430.5,376.3Q433.0,375.1 435.9,375.4M430.5,376.3Q427.0,380.1 425.3,381.3M430.5,376.3Q431.3,379.4 433.9,381.9M435.9,375.4Q438.6,374.7 443.5,373.9M435.9,375.4Q436.3,377.6 433.9,381.9M443.5,373.9Q447.8,375.3 450.1,376.7M443.5,373.9Q444.7,378.8 443.5,382.5M450.1,376.7Q446.0,380.8 443.5,382.5M450.1,376.7Q449.3,378.0 448.6,382.2M391.9,383.3Q388.0,384.6 387.1,385.8M391.9,383.3Q393.2,384.2 394.7,386.2M391.9,383.3Q391.2,387.1 392.7,391.7M401.5,380.1Q402.7,381.3 405.1,380.5M401.5,380.1Q400.4,383.7 402.3,385.8M405.1,380.5Q409.7,379.9 412.3,381.6M405.1,380.5Q405.0,383.8 402.3,385.8M405.1,380.5Q407.6,382.7 407.8,386.2M412.3,381.6Q416.2,380.8 420.9,380.6M412.3,381.6Q411.6,384.2 407.8,386.2M412.3,381.6Q413.4,384.1 415.2,387.1M420.9,380.6Q422.4,379.6 425.3,381.3M420.9,380.6Q416.9,384.9 415.2,387.1M425.3,381.3Q429.0,382.9 433.9,381.9M425.3,381.3Q427.7,383.0 431.5,386.2M433.9,381.9Q432.7,383.1 431.5,386.2M433.9,381.9Q435.0,385.9 436.9,387.1M443.5,382.5Q447.2,383.3 448.6,382.2M443.5,382.5Q440.6,386.0 436.9,387.1M443.5,382.5Q445.3,384.4 444.4,386.1M448.6,382.2Q447.1,382.8 444.4,386.1M387.1,385.8Q391.6,385.9 394.7,386.2M387.1,385.8Q387.1,389.5 385.6,392.3M387.1,385.8Q389.2,387.4 392.7,391.7M394.7,386.2Q399.8,384.9 402.3,385.8M394.7,386.2Q393.6,388.5 392.7,391.7M402.3,385.8Q404.4,386.7 407.8,386.2M407.8,386.2Q413.0,385.9 415.2,387.1M407.8,386.2Q408.4,389.8 408.1,394.7M407.8,386.2Q410.3,389.4 412.4,393.2M415.2,387.1Q417.6,387.2 421.9,389.4M415.2,387.1Q413.0,391.4 412.4,393.2M415.2,387.1Q417.1,390.2 419.0,395.0M421.9,389.4Q421.7,393.7 419.0,395.0M421.9,389.4Q424.6,391.1 427.6,395.0M431.5,386.2Q433.3,385.4 436.9,387.1M431.5,386.2Q432.2,388.2 433.8,392.6M436.9,387.1Q439.9,385.8 444.4,386.1M436.9,387.1Q435.5,391.0 433.8,392.6M453.5,389.9Q456.9,388.5 458.9,387.7M453.5,389.9Q451.5,392.6 450.1,395.2M453.5,389.9Q454.8,391.9 456.9,394.9M453.5,389.9Q456.1,391.2 461.3,393.9M458.9,387.7Q459.3,390.1 456.9,394.9M458.9,387.7Q460.1,391.2 461.3,393.9M385.6,392.3Q390.2,391.1 392.7,391.7M392.7,391.7Q395.5,393.1 399.6,395.9M392.7,391.7Q391.5,395.5 391.0,399.7M399.6,395.9Q405.2,396.4 408.1,394.7M399.6,395.9Q399.9,397.6 397.9,402.1M399.6,395.9Q400.9,398.2 405.0,399.3M408.1,394.7Q411.5,393.9 412.4,393.2M408.1,394.7Q406.8,395.5 405.0,399.3M408.1,394.7Q408.1,398.0 408.8,398.7M408.1,394.7Q412.9,397.7 415.7,398.6M412.4,393.2Q417.2,393.4 419.0,395.0M412.4,393.2Q409.4,394.9 408.8,398.7M412.4,393.2Q414.1,396.5 415.7,398.6M419.0,395.0Q424.7,395.7 427.6,395.0M419.0,395.0Q417.8,397.6 415.7,398.6M419.0,395.0Q421.7,398.5 424.5,401.7M427.6,395.0Q429.3,394.7 433.8,392.6M427.6,395.0Q425.3,399.6 424.5,401.7M427.6,395.0Q430.5,396.8 432.5,399.8M433.8,392.6Q432.0,395.5 432.5,399.8M442.9,396.0Q446.9,396.2 450.1,395.2M442.9,396.0Q439.6,397.3 438.7,401.2M442.9,396.0Q443.1,398.5 443.2,400.6M450.1,395.2Q453.1,394.2 456.9,394.9M450.1,395.2Q452.2,396.7 453.8,401.2M456.9,394.9Q458.5,394.3 461.3,393.9M456.9,394.9Q456.7,398.4 453.8,401.2M456.9,394.9Q459.7,397.3 460.1,399.8M461.3,393.9Q459.9,396.1 460.1,399.8M380.9,400.8Q380.9,405.0 378.1,408.0M380.9,400.8Q383.1,401.2 386.5,404.5M391.0,399.7Q394.5,401.4 397.9,402.1M391.0,399.7Q388.5,401.4 386.5,404.5M391.0,399.7Q391.4,403.3 390.9,404.5M397.9,402.1Q400.6,399.3 405.0,399.3M397.9,402.1Q393.9,403.0 390.9,404.5M397.9,402.1Q400.1,403.8 401.3,407.3M405.0,399.3Q407.8,399.7 408.8,398.7M405.0,399.3Q405.0,402.5 404.9,407.4M408.8,398.7Q413.6,398.1 415.7,398.6M415.7,398.6Q416.6,401.8 415.6,406.7M415.7,398.6Q416.9,403.2 419.8,406.2M424.5,401.7Q427.9,402.1 432.5,399.8M424.5,401.7Q422.2,403.0 419.8,406.2M424.5,401.7Q424.4,402.5 425.9,403.9M432.5,399.8Q436.1,401.9 438.7,401.2M432.5,399.8Q428.1,401.5 425.9,403.9M432.5,399.8Q433.7,404.7 436.6,406.7M438.7,401.2Q439.8,399.6 443.2,400.6M438.7,401.2Q436.3,403.6 436.6,406.7M438.7,401.2Q441.3,405.7 441.6,407.9M443.2,400.6Q443.1,405.8 441.6,407.9M443.2,400.6Q447.0,403.6 448.2,407.6M453.8,401.2Q456.0,401.8 460.1,399.8M453.8,401.2Q451.7,403.0 448.2,407.6M453.8,401.2Q455.9,402.6 456.9,404.7M453.8,401.2Q457.2,402.6 461.4,405.1M460.1,399.8Q457.5,400.8 456.9,404.7M460.1,399.8Q460.1,402.0 461.4,405.1M378.1,408.0Q380.6,409.8 380.4,413.9M386.5,404.5Q390.1,403.6 390.9,404.5M386.5,404.5Q387.0,409.2 388.4,411.9M390.9,404.5Q390.6,408.0 388.4,411.9M401.3,407.3Q401.8,407.3 404.9,407.4M401.3,407.3Q398.4,411.9 396.4,413.9M401.3,407.3Q401.0,410.2 402.7,413.9M404.9,407.4Q405.0,409.3 402.7,413.9M404.9,407.4Q407.2,410.8 410.0,412.2M415.6,406.7Q418.5,405.1 419.8,406.2M415.6,406.7Q411.4,408.1 410.0,412.2M415.6,406.7Q417.6,407.6 417.1,410.0M419.8,406.2Q423.6,406.2 425.9,403.9M419.8,406.2Q418.0,407.4 417.1,410.0M419.8,406.2Q423.2,408.8 423.7,410.7M425.9,403.9Q424.1,407.9 423.7,410.7M436.6,406.7Q438.5,406.6 441.6,407.9M436.6,406.7Q435.1,410.1 436.6,412.0M441.6,407.9Q446.2,408.2 448.2,407.6M441.6,407.9Q440.4,408.5 436.6,412.0M441.6,407.9Q443.0,410.0 446.0,412.3M448.2,407.6Q448.5,411.3 446.0,412.3M448.2,407.6Q449.4,409.2 451.2,412.2M456.9,404.7Q459.0,404.9 461.4,405.1M461.4,405.1Q461.6,408.3 459.2,413.3M380.4,413.9Q385.3,413.6 388.4,411.9M380.4,413.9Q384.8,416.7 387.3,417.9M388.4,411.9Q392.7,412.4 396.4,413.9M388.4,411.9Q387.3,414.5 387.3,417.9M388.4,411.9Q391.5,413.8 393.0,418.2M396.4,413.9Q398.6,414.7 402.7,413.9M396.4,413.9Q393.9,414.7 393.0,418.2M396.4,413.9Q396.6,416.6 399.6,419.0M402.7,413.9Q405.8,414.5 410.0,412.2M402.7,413.9Q402.3,417.9 399.6,419.0M402.7,413.9Q403.8,414.9 406.3,418.3M410.0,412.2Q412.3,411.1 417.1,410.0M410.0,412.2Q408.8,415.1 406.3,418.3M410.0,412.2Q410.9,415.9 413.4,420.1M417.1,410.0Q420.8,410.9 423.7,410.7M423.7,410.7Q427.0,413.1 428.8,413.4M423.7,410.7Q427.1,412.8 429.4,417.1M428.8,413.4Q433.7,412.1 436.6,412.0M428.8,413.4Q429.3,414.9 429.4,417.1M436.6,412.0Q436.4,415.1 434.8,420.1M436.6,412.0Q439.0,413.5 443.0,416.6M446.0,412.3Q447.6,413.4 451.2,412.2M446.0,412.3Q444.7,413.9 443.0,416.6M446.0,412.3Q446.1,416.6 446.8,417.9M451.2,412.2Q455.3,411.9 459.2,413.3M451.2,412.2Q450.0,415.5 446.8,417.9M451.2,412.2Q453.9,413.4 453.6,417.0M459.2,413.3Q456.4,416.1 453.6,417.0M459.2,413.3Q461.0,417.4 460.6,418.9M387.3,417.9Q388.8,417.4 393.0,418.2M387.3,417.9Q383.9,419.4 382.7,422.7M393.0,418.2Q397.7,418.9 399.6,419.0M393.0,418.2Q393.1,421.9 390.7,426.3M393.0,418.2Q395.0,422.1 394.8,426.3M399.6,419.0Q402.2,419.5 406.3,418.3M399.6,419.0Q398.5,421.5 394.8,426.3M399.6,419.0Q401.3,422.0 402.6,424.2M406.3,418.3Q409.0,418.8 413.4,420.1M406.3,418.3Q403.3,420.4 402.6,424.2M413.4,420.1Q416.7,420.3 421.4,419.8M413.4,420.1Q413.2,422.0 412.2,425.7M413.4,420.1Q413.0,421.5 415.5,424.0M421.4,419.8Q425.9,417.5 429.4,417.1M421.4,419.8Q417.9,421.0 415.5,424.0M421.4,419.8Q423.6,421.8 424.1,423.6M429.4,417.1Q430.8,417.4 434.8,420.1M429.4,417.1Q426.4,420.5 424.1,423.6M429.4,417.1Q430.0,419.1 429.7,423.5M434.8,420.1Q431.2,422.4 429.7,423.5M434.8,420.1Q436.6,420.5 439.0,422.2M443.0,416.6Q444.3,418.6 446.8,417.9M443.0,416.6Q440.4,419.6 439.0,422.2M443.0,416.6Q443.7,420.0 445.2,424.0M446.8,417.9Q451.3,419.0 453.6,417.0M446.8,417.9Q445.6,420.1 445.2,424.0M446.8,417.9Q449.0,419.8 449.9,423.5M453.6,417.0Q455.6,419.2 460.6,418.9M453.6,417.0Q451.5,421.2 449.9,423.5M382.7,422.7Q383.3,426.9 384.5,428.7M390.7,426.3Q392.6,425.3 394.8,426.3M390.7,426.3Q386.1,427.7 384.5,428.7M390.7,426.3Q391.8,430.5 392.2,432.2M394.8,426.3Q397.4,425.6 402.6,424.2M394.8,426.3Q393.1,429.2 392.2,432.2M394.8,426.3Q396.8,427.1 400.9,429.3M402.6,424.2Q401.8,428.0 400.9,429.3M402.6,424.2Q402.6,428.2 405.0,432.2M412.2,425.7Q414.7,426.3 415.5,424.0M412.2,425.7Q412.1,427.4 413.8,431.2M412.2,425.7Q416.8,428.5 418.7,428.4M415.5,424.0Q419.7,422.4 424.1,423.6M415.5,424.0Q415.9,427.3 413.8,431.2M415.5,424.0Q418.3,426.6 418.7,428.4M424.1,423.6Q427.8,422.5 429.7,423.5M424.1,423.6Q422.2,425.2 418.7,428.4M424.1,423.6Q425.9,427.8 428.3,430.0M429.7,423.5Q430.0,425.8 428.3,430.0M439.0,422.2Q441.3,422.8 445.2,424.0M445.2,424.0Q447.6,423.4 449.9,423.5M445.2,424.0Q442.5,427.1 442.1,431.7M445.2,424.0Q446.6,429.2 446.7,431.9M384.5,428.7Q386.9,430.6 392.2,432.2M392.2,432.2Q393.9,432.3 394.0,435.1M400.9,429.3Q403.9,429.6 405.0,432.2M400.9,429.3Q401.8,432.6 402.2,435.6M405.0,432.2Q403.9,433.3 402.2,435.6M405.0,432.2Q407.8,434.1 411.1,435.5M413.8,431.2Q416.0,430.3 418.7,428.4M413.8,431.2Q412.3,433.2 411.1,435.5M413.8,431.2Q414.0,433.5 417.0,435.0M418.7,428.4Q417.8,430.9 417.0,435.0M418.7,428.4Q421.8,432.2 423.3,434.3M428.3,430.0Q430.3,430.2 432.6,432.3M428.3,430.0Q425.7,431.0 423.3,434.3M428.3,430.0Q428.0,432.0 429.9,434.3M432.6,432.3Q430.0,433.1 429.9,434.3M432.6,432.3Q435.9,433.1 439.0,436.7M442.1,431.7Q444.8,430.6 446.7,431.9M442.1,431.7Q441.3,435.0 439.0,436.7M442.1,431.7Q442.9,432.7 443.6,436.3M446.7,431.9Q450.1,431.6 453.6,432.0M446.7,431.9Q446.5,433.0 443.6,436.3M394.0,435.1Q399.2,436.9 402.2,435.6M394.0,435.1Q396.5,439.0 397.5,440.9M402.2,435.6Q398.9,439.7 397.5,440.9M402.2,435.6Q403.4,441.0 404.6,443.6M411.1,435.5Q415.3,434.3 417.0,435.0M411.1,435.5Q412.6,439.6 412.4,441.1M417.0,435.0Q418.9,434.2 423.3,434.3M417.0,435.0Q415.5,437.0 412.4,441.1M423.3,434.3Q427.8,433.6 429.9,434.3M429.9,434.3Q432.7,436.8 433.5,441.4M439.0,436.7Q441.3,437.8 443.6,436.3M439.0,436.7Q435.4,438.3 433.5,441.4M439.0,436.7Q439.8,439.0 440.6,442.4M443.6,436.3Q440.7,438.4 440.6,442.4M397.5,440.9Q400.1,443.6 404.6,443.6M404.6,443.6Q409.1,443.5 412.4,441.1M412.4,441.1Q414.6,443.4 418.7,444.0M412.4,441.1Q412.5,443.9 415.0,446.5M418.7,444.0Q417.2,444.9 415.0,446.5M418.7,444.0Q422.0,445.9 423.1,447.5M429.1,443.3Q431.6,443.5 433.5,441.4M429.1,443.3Q424.9,446.9 423.1,447.5M433.5,441.4Q437.5,441.6 440.6,442.4M415.0,446.5Q420.0,446.3 423.1,447.5" stroke="#eea384" stroke-width="0.9" fill="none"/>
<circle cx="416.7" cy="364.8" r="1.1" fill="#ea9168"/>
<circle cx="431.6" cy="365.3" r="1.1" fill="#ea9168"/>
<circle cx="398.7" cy="369.8" r="1.1" fill="#ea9168"/>
<circle cx="406.3" cy="368.6" r="1.1" fill="#ea9168"/>
<circle cx="414.8" cy="370.3" r="1.1" fill="#ea9168"/>
<circle cx="419.4" cy="369.8" r="1.1" fill="#ea9168"/>
<circle cx="427.6" cy="371.1" r="1.1" fill="#ea9168"/>
<circle cx="435.5" cy="368.5" r="1.1" fill="#ea9168"/>
<circle cx="397.5" cy="377.5" r="1.1" fill="#ea9168"/>
<circle cx="402.9" cy="376.3" r="1.1" fill="#ea9168"/>
<circle cx="408.1" cy="376.4" r="1.1" fill="#ea9168"/>
<circle cx="417.6" cy="377.7" r="1.1" fill="#ea9168"/>
<circle cx="425.4" cy="374.6" r="1.1" fill="#ea9168"/>
<circle cx="430.5" cy="376.3" r="1.1" fill="#ea9168"/>
<circle cx="435.9" cy="375.4" r="1.1" fill="#ea9168"/>
<circle cx="443.5" cy="373.9" r="1.1" fill="#ea9168"/>
<circle cx="450.1" cy="376.7" r="1.1" fill="#ea9168"/>
<circle cx="391.9" cy="383.3" r="1.1" fill="#ea9168"/>
<circle cx="401.5" cy="380.1" r="1.1" fill="#ea9168"/>
<circle cx="405.1" cy="380.5" r="1.1" fill="#ea9168"/>
<circle cx="412.3" cy="381.6" r="1.1" fill="#ea9168"/>
<circle cx="420.9" cy="380.6" r="1.1" fill="#ea9168"/>
<circle cx="425.3" cy="381.3" r="1.1" fill="#ea9168"/>
<circle cx="433.9" cy="381.9" r="1.1" fill="#ea9168"/>
<circle cx="443.5" cy="382.5" r="1.1" fill="#ea9168"/>
<circle cx="448.6" cy="382.2" r="1.1" fill="#ea9168"/>
<circle cx="387.1" cy="385.8" r="1.1" fill="#ea9168"/>
<circle cx="394.7" cy="386.2" r="1.1" fill="#ea9168"/>
<circle cx="402.3" cy="385.8" r="1.1" fill="#ea9168"/>
<circle cx="407.8" cy="386.2" r="1.1" fill="#ea9168"/>
<circle cx="415.2" cy="387.1" r="1.1" fill="#ea9168"/>
<circle cx="421.9" cy="389.4" r="1.1" fill="#ea9168"/>
<circle cx="431.5" cy="386.2" r="1.1" fill="#ea9168"/>
<circle cx="436.9" cy="387.1" r="1.1" fill="#ea9168"/>
<circle cx="444.4" cy="386.1" r="1.1" fill="#ea9168"/>
<circle cx="453.5" cy="389.9" r="1.1" fill="#ea9168"/>
<circle cx="458.9" cy="387.7" r="1.1" fill="#ea9168"/>
<circle cx="385.6" cy="392.3" r="1.1" fill="#ea9168"/>
<circle cx="392.7" cy="391.7" r="1.1" fill="#ea9168"/>
<circle cx="399.6" cy="395.9" r="1.1" fill="#ea9168"/>
<circle cx="408.1" cy="394.7" r="1.1" fill="#ea9168"/>
<circle cx="412.4" cy="393.2" r="1.1" fill="#ea9168"/>
<circle cx="419.0" cy="395.0" r="1.1" fill="#ea9168"/>
<circle cx="427.6" cy="395.0" r="1.1" fill="#ea9168"/>
<circle cx="433.8" cy="392.6" r="1.1" fill="#ea9168"/>
<circle cx="442.9" cy="396.0" r="1.1" fill="#ea9168"/>
<circle cx="450.1" cy="395.2" r="1.1" fill="#ea9168"/>
<circle cx="456.9" cy="394.9" r="1.1" fill="#ea9168"/>
<circle cx="461.3" cy="393.9" r="1.1" fill="#ea9168"/>
<circle cx="380.9" cy="400.8" r="1.1" fill="#ea9168"/>
<circle cx="391.0" cy="399.7" r="1.1" fill="#ea9168"/>
<circle cx="397.9" cy="402.1" r="1.1" fill="#ea9168"/>
<circle cx="405.0" cy="399.3" r="1.1" fill="#ea9168"/>
<circle cx="408.8" cy="398.7" r="1.1" fill="#ea9168"/>
<circle cx="415.7" cy="398.6" r="1.1" fill="#ea9168"/>
<circle cx="424.5" cy="401.7" r="1.1" fill="#ea9168"/>
<circle cx="432.5" cy="399.8" r="1.1" fill="#ea9168"/>
<circle cx="438.7" cy="401.2" r="1.1" fill="#ea9168"/>
<circle cx="443.2" cy="400.6" r="1.1" fill="#ea9168"/>
<circle cx="453.8" cy="401.2" r="1.1" fill="#ea9168"/>
<circle cx="460.1" cy="399.8" r="1.1" fill="#ea9168"/>
<circle cx="378.1" cy="408.0" r="1.1" fill="#ea9168"/>
<circle cx="386.5" cy="404.5" r="1.1" fill="#ea9168"/>
<circle cx="390.9" cy="404.5" r="1.1" fill="#ea9168"/>
<circle cx="401.3" cy="407.3" r="1.1" fill="#ea9168"/>
<circle cx="404.9" cy="407.4" r="1.1" fill="#ea9168"/>
<circle cx="415.6" cy="406.7" r="1.1" fill="#ea9168"/>
<circle cx="419.8" cy="406.2" r="1.1" fill="#ea9168"/>
<circle cx="425.9" cy="403.9" r="1.1" fill="#ea9168"/>
<circle cx="436.6" cy="406.7" r="1.1" fill="#ea9168"/>
<circle cx="441.6" cy="407.9" r="1.1" fill="#ea9168"/>
<circle cx="448.2" cy="407.6" r="1.1" fill="#ea9168"/>
<circle cx="456.9" cy="404.7" r="1.1" fill="#ea9168"/>
<circle cx="461.4" cy="405.1" r="1.1" fill="#ea9168"/>
<circle cx="380.4" cy="413.9" r="1.1" fill="#ea9168"/>
<circle cx="388.4" cy="411.9" r="1.1" fill="#ea9168"/>
<circle cx="396.4" cy="413.9" r="1.1" fill="#ea9168"/>
<circle cx="402.7" cy="413.9" r="1.1" fill="#ea9168"/>
<circle cx="410.0" cy="412.2" r="1.1" fill="#ea9168"/>
<circle cx="417.1" cy="410.0" r="1.1" fill="#ea9168"/>
<circle cx="423.7" cy="410.7" r="1.1" fill="#ea9168"/>
<circle cx="428.8" cy="413.4" r="1.1" fill="#ea9168"/>
<circle cx="436.6" cy="412.0" r="1.1" fill="#ea9168"/>
<circle cx="446.0" cy="412.3" r="1.1" fill="#ea9168"/>
<circle cx="451.2" cy="412.2" r="1.1" fill="#ea9168"/>
<circle cx="459.2" cy="413.3" r="1.1" fill="#ea9168"/>
<circle cx="387.3" cy="417.9" r="1.1" fill="#ea9168"/>
<circle cx="393.0" cy="418.2" r="1.1" fill="#ea9168"/>
<circle cx="399.6" cy="419.0" r="1.1" fill="#ea9168"/>
<circle cx="406.3" cy="418.3" r="1.1" fill="#ea9168"/>
<circle cx="413.4" cy="420.1" r="1.1" fill="#ea9168"/>
<circle cx="421.4" cy="419.8" r="1.1" fill="#ea9168"/>
<circle cx="429.4" cy="417.1" r="1.1" fill="#ea9168"/>
<circle cx="434.8" cy="420.1" r="1.1" fill="#ea9168"/>
<circle cx="443.0" cy="416.6" r="1.1" fill="#ea9168"/>
<circle cx="446.8" cy="417.9" r="1.1" fill="#ea9168"/>
<circle cx="453.6" cy="417.0" r="1.1" fill="#ea9168"/>
<circle cx="460.6" cy="418.9" r="1.1" fill="#ea9168"/>
<circle cx="382.7" cy="422.7" r="1.1" fill="#ea9168"/>
<circle cx="390.7" cy="426.3" r="1.1" fill="#ea9168"/>
<circle cx="394.8" cy="426.3" r="1.1" fill="#ea9168"/>
<circle cx="402.6" cy="424.2" r="1.1" fill="#ea9168"/>
<circle cx="412.2" cy="425.7" r="1.1" fill="#ea9168"/>
<circle cx="415.5" cy="424.0" r="1.1" fill="#ea9168"/>
<circle cx="424.1" cy="423.6" r="1.1" fill="#ea9168"/>
<circle cx="429.7" cy="423.5" r="1.1" fill="#ea9168"/>
<circle cx="439.0" cy="422.2" r="1.1" fill="#ea9168"/>
<circle cx="445.2" cy="424.0" r="1.1" fill="#ea9168"/>
<circle cx="449.9" cy="423.5" r="1.1" fill="#ea9168"/>
<circle cx="384.5" cy="428.7" r="1.1" fill="#ea9168"/>
<circle cx="392.2" cy="432.2" r="1.1" fill="#ea9168"/>
<circle cx="400.9" cy="429.3" r="1.1" fill="#ea9168"/>
<circle cx="405.0" cy="432.2" r="1.1" fill="#ea9168"/>
<circle cx="413.8" cy="431.2" r="1.1" fill="#ea9168"/>
<circle cx="418.7" cy="428.4" r="1.1" fill="#ea9168"/>
<circle cx="428.3" cy="430.0" r="1.1" fill="#ea9168"/>
<circle cx="432.6" cy="432.3" r="1.1" fill="#ea9168"/>
<circle cx="442.1" cy="431.7" r="1.1" fill="#ea9168"/>
<circle cx="446.7" cy="431.9" r="1.1" fill="#ea9168"/>
<circle cx="453.6" cy="432.0" r="1.1" fill="#ea9168"/>
<circle cx="394.0" cy="435.1" r="1.1" fill="#ea9168"/>
<circle cx="402.2" cy="435.6" r="1.1" fill="#ea9168"/>
<circle cx="411.1" cy="435.5" r="1.1" fill="#ea9168"/>
<circle cx="417.0" cy="435.0" r="1.1" fill="#ea9168"/>
<circle cx="423.3" cy="434.3" r="1.1" fill="#ea9168"/>
<circle cx="429.9" cy="434.3" r="1.1" fill="#ea9168"/>
<circle cx="439.0" cy="436.7" r="1.1" fill="#ea9168"/>
<circle cx="443.6" cy="436.3" r="1.1" fill="#ea9168"/>
<circle cx="397.5" cy="440.9" r="1.1" fill="#ea9168"/>
<circle cx="404.6" cy="443.6" r="1.1" fill="#ea9168"/>
<circle cx="412.4" cy="441.1" r="1.1" fill="#ea9168"/>
<circle cx="418.7" cy="444.0" r="1.1" fill="#ea9168"/>
<circle cx="429.1" cy="443.3" r="1.1" fill="#ea9168"/>
<circle cx="433.5" cy="441.4" r="1.1" fill="#ea9168"/>
<circle cx="440.6" cy="442.4" r="1.1" fill="#ea9168"/>
<circle cx="415.0" cy="446.5" r="1.1" fill="#ea9168"/>
<circle cx="423.1" cy="447.5" r="1.1" fill="#ea9168"/>
<path d="M443.0,416.6L447.2,422.3M443.0,416.6L437.0,419.3M443.0,416.6L446.7,413.7M443.0,416.6L444.0,423.8M443.0,416.6L447.0,417.1M443.0,416.6L440.2,420.2M385.6,392.3L382.4,396.3M385.6,392.3L379.6,388.8M385.6,392.3L387.6,399.1M385.6,392.3L381.0,393.0M385.6,392.3L390.4,390.2M385.6,392.3L388.3,395.9M429.4,417.1L424.0,410.7M429.4,417.1L430.7,411.2M429.4,417.1L429.1,421.2M429.4,417.1L425.3,411.7M429.4,417.1L425.2,423.0M429.4,417.1L421.3,420.1M451.2,412.2L450.7,407.0M451.2,412.2L454.7,409.8M451.2,412.2L445.3,411.0M451.2,412.2L451.6,416.4M451.2,412.2L452.0,408.2M451.2,412.2L443.0,409.4M412.3,381.6L415.5,385.5M412.3,381.6L407.2,377.5M412.3,381.6L407.2,375.3M412.3,381.6L414.9,386.5M412.3,381.6L411.0,385.6M412.3,381.6L418.4,376.5M413.8,431.2L412.9,427.3M413.8,431.2L418.1,424.8M413.8,431.2L406.3,432.9M413.8,431.2L408.9,432.8M413.8,431.2L417.9,434.4M413.8,431.2L419.3,432.6M443.2,400.6L443.2,393.1M443.2,400.6L447.4,394.4M443.2,400.6L442.5,407.4M443.2,400.6L435.9,403.7M443.2,400.6L437.9,399.8M443.2,400.6L437.6,393.7M442.9,396.0L444.6,404.2M442.9,396.0L448.1,396.5M442.9,396.0L443.5,403.6M442.9,396.0L450.1,393.3M442.9,396.0L439.0,403.4M442.9,396.0L440.4,400.5M425.4,374.6L431.4,370.7M425.4,374.6L422.8,367.7M425.4,374.6L431.7,373.8M425.4,374.6L429.4,368.3M425.4,374.6L429.3,369.8M425.4,374.6L424.3,367.8M388.4,411.9L386.6,416.6M388.4,411.9L385.2,408.8M388.4,411.9L392.4,409.4M388.4,411.9L392.8,412.7M388.4,411.9L393.5,409.4M388.4,411.9L391.0,415.1M424.1,423.6L431.3,425.5M424.1,423.6L419.1,418.0M424.1,423.6L423.7,419.2M424.1,423.6L419.2,420.4M424.1,423.6L427.4,416.2M424.1,423.6L427.4,420.8M415.6,406.7L421.4,400.4M415.6,406.7L419.9,405.1M415.6,406.7L416.9,411.1M415.6,406.7L423.7,408.5M415.6,406.7L418.3,400.1M415.6,406.7L418.9,400.3M431.5,386.2L430.5,390.6M431.5,386.2L437.9,390.7M431.5,386.2L433.1,391.6M431.5,386.2L427.9,388.1M431.5,386.2L431.3,391.6M431.5,386.2L430.3,380.5M399.6,395.9L395.8,403.9M399.6,395.9L391.4,395.7M399.6,395.9L396.6,393.1M399.6,395.9L394.3,399.1M399.6,395.9L400.5,390.3M399.6,395.9L397.7,389.5M428.8,413.4L430.6,421.5M428.8,413.4L435.6,417.8M428.8,413.4L430.7,416.9M428.8,413.4L431.1,420.9M428.8,413.4L432.8,412.8M428.8,413.4L422.4,413.8M400.9,429.3L402.3,424.6M400.9,429.3L395.2,429.5M400.9,429.3L403.5,424.7M400.9,429.3L406.0,427.4M400.9,429.3L402.6,436.6M400.9,429.3L396.4,429.3M380.4,413.9L377.5,410.6M380.4,413.9L382.1,406.6M380.4,413.9L382.0,406.9M380.4,413.9L387.6,418.2M446.7,431.9L451.6,432.7M446.7,431.9L446.0,440.4M446.7,431.9L440.8,431.9M446.7,431.9L450.5,428.5M446.7,431.9L440.2,433.5M446.7,431.9L446.9,424.2M433.5,441.4L430.1,436.8M433.5,441.4L431.3,445.6M433.5,441.4L437.6,435.3M433.5,441.4L433.3,436.6M433.5,441.4L426.2,444.4M433.5,441.4L429.5,439.2M418.7,428.4L410.5,430.4M418.7,428.4L419.1,433.4M418.7,428.4L416.3,435.5M418.7,428.4L421.3,424.4M418.7,428.4L421.6,432.8M418.7,428.4L415.6,434.3M408.1,394.7L411.1,399.5M408.1,394.7L411.4,402.9M408.1,394.7L407.5,390.2M408.1,394.7L412.5,393.6M408.1,394.7L401.4,400.6M408.1,394.7L410.2,387.3M434.8,420.1L430.2,422.1M434.8,420.1L431.8,416.7M434.8,420.1L436.4,425.9M434.8,420.1L440.6,421.4M434.8,420.1L436.7,412.9M434.8,420.1L427.6,420.1M416.7,364.8L412.1,365.9M416.7,364.8L410.5,367.7M416.7,364.8L417.7,372.4M446.8,417.9L452.6,412.5M446.8,417.9L444.3,410.1M446.8,417.9L443.7,411.4M446.8,417.9L441.5,419.5M446.8,417.9L443.7,414.7M446.8,417.9L439.9,421.8M414.8,370.3L413.2,363.4M414.8,370.3L414.8,376.5M414.8,370.3L408.0,372.3M414.8,370.3L408.6,374.3M414.8,370.3L419.2,368.2M414.8,370.3L410.3,363.8M402.3,385.8L397.4,389.9M402.3,385.8L406.4,385.1M402.3,385.8L397.7,384.5M402.3,385.8L404.0,377.2M402.3,385.8L397.8,385.2M402.3,385.8L396.3,382.7" stroke="#df7a4c" stroke-width="0.8" fill="none"/>
<circle cx="443.0" cy="416.6" r="1.5" fill="#de7244"/>
<circle cx="385.6" cy="392.3" r="1.5" fill="#de7244"/>
<circle cx="429.4" cy="417.1" r="1.5" fill="#de7244"/>
<circle cx="451.2" cy="412.2" r="1.5" fill="#de7244"/>
<circle cx="412.3" cy="381.6" r="1.5" fill="#de7244"/>
<circle cx="413.8" cy="431.2" r="1.5" fill="#de7244"/>
<circle cx="443.2" cy="400.6" r="1.5" fill="#de7244"/>
<circle cx="442.9" cy="396.0" r="1.5" fill="#de7244"/>
<circle cx="425.4" cy="374.6" r="1.5" fill="#de7244"/>
<circle cx="388.4" cy="411.9" r="1.5" fill="#de7244"/>
<circle cx="424.1" cy="423.6" r="1.5" fill="#de7244"/>
<circle cx="415.6" cy="406.7" r="1.5" fill="#de7244"/>
<circle cx="431.5" cy="386.2" r="1.5" fill="#de7244"/>
<circle cx="399.6" cy="395.9" r="1.5" fill="#de7244"/>
<circle cx="428.8" cy="413.4" r="1.5" fill="#de7244"/>
<circle cx="400.9" cy="429.3" r="1.5" fill="#de7244"/>
<circle cx="380.4" cy="413.9" r="1.5" fill="#de7244"/>
<circle cx="446.7" cy="431.9" r="1.5" fill="#de7244"/>
<circle cx="433.5" cy="441.4" r="1.5" fill="#de7244"/>
<circle cx="418.7" cy="428.4" r="1.5" fill="#de7244"/>
<circle cx="408.1" cy="394.7" r="1.5" fill="#de7244"/>
<circle cx="434.8" cy="420.1" r="1.5" fill="#de7244"/>
<circle cx="416.7" cy="364.8" r="1.5" fill="#de7244"/>
<circle cx="446.8" cy="417.9" r="1.5" fill="#de7244"/>
<circle cx="414.8" cy="370.3" r="1.5" fill="#de7244"/>
<circle cx="402.3" cy="385.8" r="1.5" fill="#de7244"/>
<path d="M445.7,410.2 C445.4,412.8 443.6,415.4 442.3,417.8 C441.0,420.3 439.8,423.2 437.8,424.9 C435.7,426.6 432.7,427.1 430.0,427.9 C427.3,428.7 424.5,430.0 421.8,429.7 C419.2,429.4 416.6,427.6 414.2,426.3 C411.7,425.0 408.8,423.8 407.1,421.8 C405.4,419.7 404.9,416.7 404.1,414.0 C403.3,411.3 402.0,408.5 402.3,405.8 C402.6,403.2 404.4,400.6 405.7,398.2 C407.0,395.7 408.2,392.8 410.2,391.1 C412.3,389.4 415.3,388.9 418.0,388.1 C420.7,387.3 423.5,386.0 426.2,386.3 C428.8,386.6 431.4,388.4 433.8,389.7 C436.3,391.0 439.2,392.2 440.9,394.2 C442.6,396.3 443.1,399.3 443.9,402.0 C444.7,404.7 446.0,407.5 445.7,410.2Z" fill="#d38e72" opacity="0.95"/>
<circle cx="418" cy="404" r="4" fill="#c4aaaa" opacity="0.55"/>
<circle cx="428" cy="410" r="5" fill="#c4aaaa" opacity="0.55"/>
<circle cx="432" cy="400" r="3" fill="#c4aaaa" opacity="0.55"/>
<circle cx="421" cy="417" r="4" fill="#c4aaaa" opacity="0.55"/>
<circle cx="434" cy="418" r="3" fill="#c4aaaa" opacity="0.55"/>
<path d="M421.1,394.0L417.6,389.8M411.3,406.3L414.7,405.1M419.0,396.5L419.2,393.2M435.9,406.8L439.5,408.2M422.1,409.4L418.4,411.4M420.2,396.8L419.9,400.4M423.0,388.6L419.4,388.0M428.0,396.1L428.8,399.4M427.0,390.3L424.1,387.0M415.2,404.4L419.2,403.5M412.4,394.1L414.1,390.1M419.9,422.2L423.8,426.1M412.7,422.6L412.3,426.7M423.7,421.1L424.9,423.8M422.1,397.6L422.3,401.5M411.0,409.7L407.8,405.9M411.5,422.7L413.4,420.1M432.9,391.2L433.7,387.9M431.8,394.1L434.8,394.4M439.5,403.2L439.5,406.5M430.0,415.6L430.7,411.6M434.9,423.6L435.8,420.2M436.1,398.1L437.1,393.2M438.0,397.0L439.9,394.0M418.9,394.4L418.7,390.0M435.0,398.0L434.7,401.7M433.0,418.8L437.1,420.4M432.6,419.0L428.0,419.1M425.1,406.8L427.4,403.1M408.9,401.8L411.2,398.3M406.9,417.6L411.3,419.8M421.8,405.5L417.9,402.2M434.4,403.2L439.0,402.7M405.1,409.8L410.2,410.9M415.8,399.8L418.4,396.6M409.7,410.3L410.2,406.7M412.1,413.1L406.9,411.3M419.2,425.5L415.4,428.1M422.1,422.1L427.0,421.3M427.0,396.9L425.4,400.4M410.4,399.8L411.0,396.7M420.8,389.5L417.8,388.6M423.5,409.5L425.6,414.9M411.4,397.8L412.8,392.2M412.0,397.9L408.5,394.2" stroke="#d9774f" stroke-width="0.7" fill="none"/>
<circle cx="411.3" cy="400.2" r="1.4" fill="#8a4cc0"/>
<path d="M408,388 L411.3,400 L416,394" stroke="#b08ac8" stroke-width="0.6" fill="none" transform="translate(0 0)"/>
<path d="M423.2,534.0 C413.2,534.2 405.0,535.7 397.0,539.0 C389.0,542.3 380.8,546.2 375.0,554.0 C369.2,561.8 364.0,575.0 362.0,586.0 C360.0,597.0 360.5,610.0 363.0,620.0 C365.5,630.0 369.7,639.8 377.0,646.0 C384.3,652.2 396.3,655.5 407.0,657.0 C417.7,658.5 430.7,657.5 441.0,655.0 C451.3,652.5 462.2,648.8 469.0,642.0 C475.8,635.2 479.7,624.3 482.0,614.0 C484.3,603.7 484.2,590.0 483.0,580.0 C481.8,570.0 479.3,561.0 475.0,554.0 C470.7,547.0 465.6,541.3 457.0,538.0 C448.4,534.7 433.2,533.8 423.2,534.0Z" fill="#ececee"/>
<path d="M424.1,539.3 C414.8,539.4 407.2,540.8 399.8,543.9 C392.3,547.0 384.7,550.6 379.3,557.9 C373.9,565.2 369.1,577.4 367.2,587.6 C365.3,597.9 365.8,610.0 368.1,619.2 C370.5,628.5 374.3,637.7 381.1,643.4 C388.0,649.2 399.1,652.3 409.1,653.7 C419.0,655.1 431.1,654.1 440.7,651.8 C450.3,649.5 460.4,646.1 466.7,639.7 C473.1,633.4 476.6,623.3 478.8,613.7 C481.0,604.1 480.8,591.3 479.7,582.0 C478.6,572.8 476.3,564.4 472.3,557.9 C468.3,551.4 463.6,546.1 455.6,543.0 C447.5,539.9 433.4,539.1 424.1,539.3Z" fill="#dedee0"/>
<path d="M472.2,611.4 C471.0,615.6 468.1,619.5 465.7,623.2 C463.3,626.9 460.7,630.7 457.5,633.8 C454.3,636.8 450.4,639.4 446.6,641.6 C442.7,643.8 438.5,646.6 434.1,647.2 C429.8,647.8 425.2,645.1 420.6,645.0 C416.1,644.9 411.0,647.7 406.8,646.6 C402.7,645.5 399.5,641.0 395.8,638.4 C392.2,635.8 387.8,634.1 384.7,631.0 C381.6,627.9 379.4,623.8 377.2,619.9 C375.0,616.0 372.1,611.9 371.5,607.6 C370.9,603.3 373.2,598.7 373.3,594.1 C373.4,589.6 370.9,584.5 372.1,580.4 C373.2,576.3 377.7,573.2 380.1,569.3 C382.5,565.5 383.3,560.0 386.5,557.1 C389.7,554.3 395.4,554.3 399.4,552.3 C403.5,550.2 406.7,546.1 410.9,544.9 C415.1,543.7 420.0,544.7 424.4,545.0 C428.9,545.3 433.6,545.3 437.8,546.6 C442.0,548.0 445.6,550.8 449.5,553.1 C453.3,555.5 458.0,557.2 460.8,560.5 C463.6,563.8 464.2,568.9 466.4,572.8 C468.6,576.8 473.1,580.1 474.1,584.3 C475.1,588.4 472.9,593.4 472.6,597.9 C472.3,602.4 473.3,607.2 472.2,611.4Z" fill="#e6716b"/>
<path d="M469.1,610.4 C468.1,614.4 465.3,618.0 463.0,621.5 C460.7,625.0 458.3,628.6 455.3,631.4 C452.3,634.3 448.7,636.7 445.1,638.8 C441.4,640.9 437.5,643.6 433.4,644.1 C429.4,644.6 425.0,641.9 420.7,641.8 C416.5,641.7 411.7,644.6 407.8,643.6 C403.9,642.5 401.0,638.1 397.5,635.6 C394.1,633.2 390.0,631.7 387.1,628.8 C384.1,626.0 382.1,622.1 380.0,618.4 C377.9,614.8 375.2,610.9 374.6,606.9 C374.0,602.9 376.4,598.5 376.5,594.2 C376.6,590.0 374.1,585.2 375.1,581.3 C376.2,577.5 380.6,574.7 382.9,571.0 C385.1,567.4 385.6,562.1 388.7,559.5 C391.7,556.8 397.1,557.0 400.9,555.1 C404.7,553.2 407.7,549.2 411.6,548.0 C415.5,546.9 420.1,547.9 424.3,548.2 C428.5,548.5 432.9,548.4 436.8,549.7 C440.7,550.9 444.2,553.7 447.8,555.8 C451.4,558.0 455.8,559.6 458.4,562.7 C461.1,565.8 461.5,570.6 463.6,574.3 C465.7,578.0 470.0,581.1 471.0,585.0 C471.9,588.9 469.7,593.6 469.4,597.8 C469.1,602.0 470.2,606.5 469.1,610.4Z" fill="#f1a898"/>
<path d="M465.3,609.2 C464.3,612.9 461.9,616.3 459.8,619.5 C457.7,622.7 455.4,625.8 452.6,628.5 C449.9,631.2 446.7,633.5 443.3,635.5 C440.0,637.4 436.3,639.7 432.5,640.2 C428.8,640.6 424.8,638.1 420.9,638.1 C417.0,638.0 412.5,640.7 409.0,639.8 C405.4,638.8 402.7,634.8 399.5,632.5 C396.4,630.2 392.7,628.7 390.0,626.1 C387.3,623.5 385.2,620.0 383.3,616.7 C381.4,613.3 379.0,609.7 378.5,606.0 C378.0,602.3 380.2,598.3 380.2,594.4 C380.3,590.5 378.0,586.1 378.9,582.5 C379.9,579.0 383.9,576.4 386.0,573.0 C388.1,569.7 388.6,564.8 391.4,562.4 C394.2,560.0 399.1,560.1 402.7,558.4 C406.2,556.7 408.9,553.0 412.5,551.9 C416.1,550.8 420.3,551.7 424.2,551.9 C428.0,552.2 432.1,552.3 435.7,553.5 C439.3,554.7 442.5,557.0 445.8,559.0 C449.1,561.0 453.1,562.6 455.5,565.4 C457.9,568.3 458.4,572.7 460.3,576.1 C462.2,579.5 466.2,582.3 467.1,585.9 C468.0,589.5 466.0,593.8 465.7,597.7 C465.4,601.5 466.3,605.6 465.3,609.2Z" fill="#f8d3c8"/>
<path d="M417.2,554.7Q414.6,557.5 414.6,557.6M417.2,554.7Q420.3,557.7 423.7,559.0M435.1,555.4Q432.6,557.1 431.0,559.0M435.1,555.4Q436.9,558.0 438.5,561.0M435.1,555.4Q438.5,555.3 441.3,558.2M396.7,561.6Q400.4,562.0 403.0,560.4M396.7,561.6Q395.5,562.5 396.2,563.6M403.0,560.4Q406.1,559.0 407.7,558.3M403.0,560.4Q398.7,561.0 396.2,563.6M403.0,560.4Q404.7,560.8 406.3,564.1M407.7,558.3Q412.3,558.8 414.6,557.6M407.7,558.3Q407.6,562.3 406.3,564.1M407.7,558.3Q410.4,561.5 412.3,565.3M414.6,557.6Q413.7,561.5 412.3,565.3M423.7,559.0Q428.8,559.9 431.0,559.0M423.7,559.0Q423.3,563.8 424.4,566.2M431.0,559.0Q435.5,560.8 438.5,561.0M431.0,559.0Q432.1,561.8 431.3,565.2M438.5,561.0Q441.1,560.7 441.3,558.2M438.5,561.0Q435.5,563.9 431.3,565.2M438.5,561.0Q439.4,562.5 438.7,564.5M441.3,558.2Q440.7,560.1 438.7,564.5M406.3,564.1Q408.8,564.6 412.3,565.3M406.3,564.1Q405.7,567.3 407.9,571.4M412.3,565.3Q415.4,566.3 417.6,566.6M412.3,565.3Q409.3,569.7 407.9,571.4M412.3,565.3Q415.4,568.0 417.5,571.6M417.6,566.6Q421.5,566.6 424.4,566.2M417.6,566.6Q417.7,568.7 417.5,571.6M417.6,566.6Q421.7,570.3 422.8,573.3M424.4,566.2Q428.4,566.5 431.3,565.2M424.4,566.2Q422.4,567.4 417.5,571.6M424.4,566.2Q423.9,570.4 422.8,573.3M424.4,566.2Q425.5,567.9 428.1,570.1M431.3,565.2Q433.7,564.0 438.7,564.5M431.3,565.2Q429.3,566.5 428.1,570.1M438.7,564.5Q437.8,570.0 438.3,573.0M438.7,564.5Q440.7,567.4 442.4,570.3M449.1,566.9Q452.5,567.3 453.1,567.2M449.1,566.9Q447.2,569.0 442.4,570.3M449.1,566.9Q451.2,569.0 451.6,573.6M453.1,567.2Q452.6,571.2 451.6,573.6M453.1,567.2Q453.3,571.7 456.2,573.6M392.7,572.0Q395.5,572.0 400.4,572.1M392.7,572.0Q390.3,575.6 389.9,579.2M392.7,572.0Q395.9,573.1 398.4,576.8M400.4,572.1Q405.5,571.5 407.9,571.4M400.4,572.1Q399.5,574.7 398.4,576.8M400.4,572.1Q401.6,574.7 403.6,578.7M407.9,571.4Q406.2,575.2 403.6,578.7M407.9,571.4Q408.4,574.6 410.1,576.5M417.5,571.6Q419.6,571.0 422.8,573.3M417.5,571.6Q417.6,574.1 419.3,579.3M422.8,573.3Q424.4,572.4 428.1,570.1M422.8,573.3Q420.7,577.5 419.3,579.3M422.8,573.3Q425.4,573.7 426.5,576.8M428.1,570.1Q428.8,574.8 426.5,576.8M438.3,573.0Q439.1,572.9 442.4,570.3M438.3,573.0Q436.4,574.7 434.8,576.4M438.3,573.0Q439.5,574.1 437.9,576.7M442.4,570.3Q440.2,574.8 437.9,576.7M442.4,570.3Q445.2,572.9 446.8,575.8M451.6,573.6Q455.3,574.5 456.2,573.6M451.6,573.6Q449.5,573.5 446.8,575.8M451.6,573.6Q452.4,575.2 452.6,577.2M456.2,573.6Q453.5,574.0 452.6,577.2M389.9,579.2Q387.7,581.3 385.4,585.6M389.9,579.2Q392.5,583.0 395.4,585.9M398.4,576.8Q400.9,577.0 403.6,578.7M398.4,576.8Q399.2,580.4 399.4,584.4M403.6,578.7Q407.7,577.7 410.1,576.5M403.6,578.7Q403.0,582.9 399.4,584.4M403.6,578.7Q406.7,581.0 408.4,584.8M410.1,576.5Q408.1,581.9 408.4,584.8M419.3,579.3Q423.7,578.4 426.5,576.8M419.3,579.3Q416.6,582.0 414.7,586.0M419.3,579.3Q420.5,581.8 420.6,584.0M426.5,576.8Q430.9,577.0 434.8,576.4M434.8,576.4Q437.1,575.6 437.9,576.7M434.8,576.4Q435.4,582.0 437.5,584.7M437.9,576.7Q439.0,581.9 437.5,584.7M446.8,575.8Q448.3,575.2 452.6,577.2M452.6,577.2Q450.5,580.7 449.8,584.6M385.4,585.6Q385.2,586.8 384.4,590.4M385.4,585.6Q387.4,586.8 389.2,590.5M395.4,585.9Q396.1,585.7 399.4,584.4M395.4,585.9Q392.4,588.6 389.2,590.5M395.4,585.9Q397.4,588.7 400.2,591.6M399.4,584.4Q398.9,587.5 400.2,591.6M399.4,584.4Q403.4,587.9 406.0,589.4M408.4,584.8Q410.3,584.3 414.7,586.0M408.4,584.8Q408.1,587.5 406.0,589.4M408.4,584.8Q411.5,586.7 413.0,590.3M414.7,586.0Q417.4,584.3 420.6,584.0M414.7,586.0Q414.8,587.7 413.0,590.3M414.7,586.0Q417.2,590.2 418.7,591.4M420.6,584.0Q419.2,587.9 418.7,591.4M420.6,584.0Q423.1,588.8 424.2,591.0M430.5,585.6Q433.8,584.8 437.5,584.7M430.5,585.6Q426.1,589.4 424.2,591.0M430.5,585.6Q429.5,586.7 430.9,590.4M437.5,584.7Q441.4,585.1 444.8,585.6M437.5,584.7Q434.8,586.9 430.9,590.4M437.5,584.7Q439.6,585.4 439.9,588.7M444.8,585.6Q446.5,585.6 449.8,584.6M444.8,585.6Q441.1,586.6 439.9,588.7M444.8,585.6Q447.0,588.4 447.9,589.9M449.8,584.6Q448.2,586.2 447.9,589.9M449.8,584.6Q451.7,588.9 454.5,591.8M459.3,585.5Q456.5,587.5 454.5,591.8M459.3,585.5Q460.2,586.8 459.9,587.8M384.4,590.4Q388.0,591.8 389.2,590.5M384.4,590.4Q383.5,593.9 380.2,597.7M384.4,590.4Q386.5,593.0 386.7,596.7M389.2,590.5Q387.4,593.3 386.7,596.7M389.2,590.5Q392.5,594.3 393.2,595.7M400.2,591.6Q402.3,590.1 406.0,589.4M400.2,591.6Q396.3,593.2 393.2,595.7M400.2,591.6Q401.2,594.4 402.8,597.8M406.0,589.4Q408.6,590.0 413.0,590.3M406.0,589.4Q409.0,592.6 410.2,595.5M413.0,590.3Q416.9,591.0 418.7,591.4M413.0,590.3Q410.6,593.7 410.2,595.5M413.0,590.3Q415.6,592.1 415.9,595.2M418.7,591.4Q420.0,591.3 424.2,591.0M418.7,591.4Q417.4,593.5 415.9,595.2M418.7,591.4Q421.2,594.1 420.9,596.0M418.7,591.4Q419.7,594.4 418.8,600.0M424.2,591.0Q427.7,591.5 430.9,590.4M424.2,591.0Q421.3,592.2 420.9,596.0M430.9,590.4Q431.7,595.1 431.0,597.5M439.9,588.7Q442.6,589.7 447.9,589.9M439.9,588.7Q440.1,592.4 442.5,594.5M447.9,589.9Q451.6,590.1 454.5,591.8M447.9,589.9Q444.4,593.0 442.5,594.5M447.9,589.9Q449.1,593.2 450.3,595.0M454.5,591.8Q456.9,589.3 459.9,587.8M454.5,591.8Q453.8,593.9 450.3,595.0M454.5,591.8Q455.4,593.8 456.2,595.6M459.9,587.8Q458.7,592.3 456.2,595.6M380.2,597.7Q384.7,597.0 386.7,596.7M380.2,597.7Q382.2,599.4 382.1,600.0M386.7,596.7Q391.0,597.1 393.2,595.7M386.7,596.7Q385.4,599.5 382.1,600.0M386.7,596.7Q391.1,598.8 392.6,600.1M393.2,595.7Q393.0,598.5 392.6,600.1M402.8,597.8Q407.4,596.4 410.2,595.5M402.8,597.8Q400.6,599.1 398.9,602.4M402.8,597.8Q404.2,602.1 404.2,603.4M402.8,597.8Q406.0,598.2 409.9,600.5M410.2,595.5Q412.1,595.1 415.9,595.2M410.2,595.5Q409.4,599.4 409.9,600.5M415.9,595.2Q417.1,595.0 420.9,596.0M415.9,595.2Q411.7,598.3 409.9,600.5M415.9,595.2Q418.2,596.6 418.8,600.0M420.9,596.0Q418.5,597.9 418.8,600.0M420.9,596.0Q424.4,599.7 427.5,600.9M431.0,597.5Q432.8,596.6 437.4,598.0M431.0,597.5Q428.3,598.4 427.5,600.9M431.0,597.5Q430.4,599.5 431.4,600.1M437.4,598.0Q440.3,595.4 442.5,594.5M437.4,598.0Q433.5,598.4 431.4,600.1M437.4,598.0Q438.0,600.7 440.6,601.9M442.5,594.5Q445.8,594.9 450.3,595.0M442.5,594.5Q442.5,598.1 440.6,601.9M450.3,595.0Q452.5,596.5 456.2,595.6M450.3,595.0Q450.2,598.4 447.6,602.8M456.2,595.6Q455.9,601.2 455.4,604.1M456.2,595.6Q459.0,597.4 461.8,600.8M465.1,596.0Q462.1,599.7 461.8,600.8M392.6,600.1Q396.7,600.9 398.9,602.4M398.9,602.4Q401.6,602.9 404.2,603.4M398.9,602.4Q396.3,607.3 395.0,609.3M398.9,602.4Q400.4,605.1 401.0,609.5M404.2,603.4Q405.6,601.8 409.9,600.5M404.2,603.4Q402.2,607.3 401.0,609.5M404.2,603.4Q407.9,605.2 410.3,606.4M409.9,600.5Q409.1,602.4 410.3,606.4M418.8,600.0Q422.6,599.7 427.5,600.9M418.8,600.0Q420.9,604.0 420.9,608.0M427.5,600.9Q429.8,602.0 431.4,600.1M440.6,601.9Q443.4,602.4 447.6,602.8M440.6,601.9Q437.2,606.0 436.0,608.5M447.6,602.8Q450.0,604.4 455.4,604.1M447.6,602.8Q447.4,607.1 445.2,609.5M447.6,602.8Q448.8,604.7 452.5,608.0M455.4,604.1Q459.2,601.2 461.8,600.8M455.4,604.1Q453.8,606.0 452.5,608.0M455.4,604.1Q458.1,605.8 458.2,606.9M461.8,600.8Q461.1,603.2 458.2,606.9M388.4,608.3Q392.6,608.5 395.0,609.3M388.4,608.3Q388.5,611.1 386.1,616.4M388.4,608.3Q390.7,611.0 391.2,615.5M395.0,609.3Q398.1,609.5 401.0,609.5M395.0,609.3Q392.1,613.4 391.2,615.5M395.0,609.3Q395.5,612.1 397.2,616.1M401.0,609.5Q397.8,612.2 397.2,616.1M401.0,609.5Q403.7,612.2 406.6,613.6M410.3,606.4Q413.4,608.3 417.4,609.2M410.3,606.4Q407.2,609.7 406.6,613.6M410.3,606.4Q410.1,611.6 410.2,614.0M417.4,609.2Q420.1,609.0 420.9,608.0M417.4,609.2Q412.3,611.2 410.2,614.0M417.4,609.2Q418.9,611.5 419.2,615.5M420.9,608.0Q420.2,611.6 419.2,615.5M420.9,608.0Q421.9,611.6 425.9,612.2M430.1,610.0Q433.9,608.4 436.0,608.5M430.1,610.0Q428.3,610.5 425.9,612.2M430.1,610.0Q431.8,611.3 434.4,612.4M436.0,608.5Q434.6,609.9 434.4,612.4M436.0,608.5Q438.3,611.2 441.3,612.8M445.2,609.5Q448.1,607.9 452.5,608.0M445.2,609.5Q443.9,610.6 441.3,612.8M445.2,609.5Q447.1,612.7 446.3,615.5M445.2,609.5Q449.5,610.6 452.4,612.7M452.5,608.0Q456.3,606.2 458.2,606.9M452.5,608.0Q451.4,609.2 452.4,612.7M458.2,606.9Q455.8,610.4 452.4,612.7M386.1,616.4Q387.7,615.7 391.2,615.5M391.2,615.5Q395.2,616.1 397.2,616.1M391.2,615.5Q391.9,617.2 395.1,620.5M397.2,616.1Q395.1,617.1 395.1,620.5M397.2,616.1Q399.8,617.1 403.0,620.6M406.6,613.6Q409.6,613.6 410.2,614.0M406.6,613.6Q404.8,617.6 403.0,620.6M406.6,613.6Q407.9,617.7 407.7,619.8M410.2,614.0Q408.6,616.4 407.7,619.8M419.2,615.5Q422.3,612.4 425.9,612.2M419.2,615.5Q417.8,619.4 417.0,622.1M419.2,615.5Q421.7,619.5 421.2,621.9M425.9,612.2Q430.6,612.6 434.4,612.4M434.4,612.4Q436.4,612.1 441.3,612.8M434.4,612.4Q432.5,616.9 431.6,620.5M434.4,612.4Q434.4,615.3 436.8,619.0M441.3,612.8Q443.8,615.0 446.3,615.5M441.3,612.8Q440.0,616.3 436.8,619.0M441.3,612.8Q441.5,617.4 443.7,620.4M446.3,615.5Q450.6,614.3 452.4,612.7M446.3,615.5Q444.5,618.0 443.7,620.4M446.3,615.5Q447.5,617.5 451.0,618.3M452.4,612.7Q453.2,615.6 451.0,618.3M395.1,620.5Q399.7,621.5 403.0,620.6M395.1,620.5Q395.1,624.7 397.0,626.3M403.0,620.6Q405.7,619.3 407.7,619.8M403.0,620.6Q398.7,622.7 397.0,626.3M403.0,620.6Q403.4,624.0 403.4,626.2M407.7,619.8Q405.0,624.3 403.4,626.2M417.0,622.1Q418.7,621.9 421.2,621.9M417.0,622.1Q414.1,626.6 413.4,628.2M417.0,622.1Q416.9,625.1 418.9,625.6M421.2,621.9Q420.2,624.0 418.9,625.6M421.2,621.9Q423.1,623.7 424.6,627.0M431.6,620.5Q435.4,621.2 436.8,619.0M431.6,620.5Q434.2,622.9 434.9,624.8M436.8,619.0Q439.1,620.7 443.7,620.4M436.8,619.0Q435.2,623.1 434.9,624.8M436.8,619.0Q438.2,621.9 441.2,624.4M443.7,620.4Q448.3,618.4 451.0,618.3M443.7,620.4Q442.6,621.1 441.2,624.4M443.7,620.4Q443.3,621.9 445.7,625.2M397.0,626.3Q401.6,627.6 403.4,626.2M403.4,626.2Q406.7,628.8 409.1,632.7M413.4,628.2Q416.7,627.6 418.9,625.6M413.4,628.2Q410.9,630.7 409.1,632.7M413.4,628.2Q416.1,629.2 417.0,633.0M418.9,625.6Q420.9,626.2 424.6,627.0M418.9,625.6Q416.9,629.0 417.0,633.0M418.9,625.6Q421.7,627.5 424.1,631.4M424.6,627.0Q424.4,628.5 424.1,631.4M434.9,624.8Q438.3,624.1 441.2,624.4M434.9,624.8Q437.0,626.9 438.3,631.7M441.2,624.4Q444.0,623.7 445.7,625.2M441.2,624.4Q441.1,628.3 438.3,631.7M409.1,632.7Q413.0,632.6 417.0,633.0M409.1,632.7Q412.0,635.4 414.1,636.9M417.0,633.0Q421.3,633.0 424.1,631.4M417.0,633.0Q415.5,636.5 414.1,636.9M424.1,631.4Q428.3,633.7 430.6,633.9M430.6,633.9Q434.1,632.6 438.3,631.7M430.6,633.9Q431.3,636.5 431.6,636.7M438.3,631.7Q435.0,634.3 431.6,636.7" stroke="#eea384" stroke-width="0.9" fill="none"/>
<circle cx="417.2" cy="554.7" r="1.1" fill="#ea9168"/>
<circle cx="435.1" cy="555.4" r="1.1" fill="#ea9168"/>
<circle cx="396.7" cy="561.6" r="1.1" fill="#ea9168"/>
<circle cx="403.0" cy="560.4" r="1.1" fill="#ea9168"/>
<circle cx="407.7" cy="558.3" r="1.1" fill="#ea9168"/>
<circle cx="414.6" cy="557.6" r="1.1" fill="#ea9168"/>
<circle cx="423.7" cy="559.0" r="1.1" fill="#ea9168"/>
<circle cx="431.0" cy="559.0" r="1.1" fill="#ea9168"/>
<circle cx="438.5" cy="561.0" r="1.1" fill="#ea9168"/>
<circle cx="441.3" cy="558.2" r="1.1" fill="#ea9168"/>
<circle cx="396.2" cy="563.6" r="1.1" fill="#ea9168"/>
<circle cx="406.3" cy="564.1" r="1.1" fill="#ea9168"/>
<circle cx="412.3" cy="565.3" r="1.1" fill="#ea9168"/>
<circle cx="417.6" cy="566.6" r="1.1" fill="#ea9168"/>
<circle cx="424.4" cy="566.2" r="1.1" fill="#ea9168"/>
<circle cx="431.3" cy="565.2" r="1.1" fill="#ea9168"/>
<circle cx="438.7" cy="564.5" r="1.1" fill="#ea9168"/>
<circle cx="449.1" cy="566.9" r="1.1" fill="#ea9168"/>
<circle cx="453.1" cy="567.2" r="1.1" fill="#ea9168"/>
<circle cx="392.7" cy="572.0" r="1.1" fill="#ea9168"/>
<circle cx="400.4" cy="572.1" r="1.1" fill="#ea9168"/>
<circle cx="407.9" cy="571.4" r="1.1" fill="#ea9168"/>
<circle cx="417.5" cy="571.6" r="1.1" fill="#ea9168"/>
<circle cx="422.8" cy="573.3" r="1.1" fill="#ea9168"/>
<circle cx="428.1" cy="570.1" r="1.1" fill="#ea9168"/>
<circle cx="438.3" cy="573.0" r="1.1" fill="#ea9168"/>
<circle cx="442.4" cy="570.3" r="1.1" fill="#ea9168"/>
<circle cx="451.6" cy="573.6" r="1.1" fill="#ea9168"/>
<circle cx="456.2" cy="573.6" r="1.1" fill="#ea9168"/>
<circle cx="389.9" cy="579.2" r="1.1" fill="#ea9168"/>
<circle cx="398.4" cy="576.8" r="1.1" fill="#ea9168"/>
<circle cx="403.6" cy="578.7" r="1.1" fill="#ea9168"/>
<circle cx="410.1" cy="576.5" r="1.1" fill="#ea9168"/>
<circle cx="419.3" cy="579.3" r="1.1" fill="#ea9168"/>
<circle cx="426.5" cy="576.8" r="1.1" fill="#ea9168"/>
<circle cx="434.8" cy="576.4" r="1.1" fill="#ea9168"/>
<circle cx="437.9" cy="576.7" r="1.1" fill="#ea9168"/>
<circle cx="446.8" cy="575.8" r="1.1" fill="#ea9168"/>
<circle cx="452.6" cy="577.2" r="1.1" fill="#ea9168"/>
<circle cx="385.4" cy="585.6" r="1.1" fill="#ea9168"/>
<circle cx="395.4" cy="585.9" r="1.1" fill="#ea9168"/>
<circle cx="399.4" cy="584.4" r="1.1" fill="#ea9168"/>
<circle cx="408.4" cy="584.8" r="1.1" fill="#ea9168"/>
<circle cx="414.7" cy="586.0" r="1.1" fill="#ea9168"/>
<circle cx="420.6" cy="584.0" r="1.1" fill="#ea9168"/>
<circle cx="430.5" cy="585.6" r="1.1" fill="#ea9168"/>
<circle cx="437.5" cy="584.7" r="1.1" fill="#ea9168"/>
<circle cx="444.8" cy="585.6" r="1.1" fill="#ea9168"/>
<circle cx="449.8" cy="584.6" r="1.1" fill="#ea9168"/>
<circle cx="459.3" cy="585.5" r="1.1" fill="#ea9168"/>
<circle cx="384.4" cy="590.4" r="1.1" fill="#ea9168"/>
<circle cx="389.2" cy="590.5" r="1.1" fill="#ea9168"/>
<circle cx="400.2" cy="591.6" r="1.1" fill="#ea9168"/>
<circle cx="406.0" cy="589.4" r="1.1" fill="#ea9168"/>
<circle cx="413.0" cy="590.3" r="1.1" fill="#ea9168"/>
<circle cx="418.7" cy="591.4" r="1.1" fill="#ea9168"/>
<circle cx="424.2" cy="591.0" r="1.1" fill="#ea9168"/>
<circle cx="430.9" cy="590.4" r="1.1" fill="#ea9168"/>
<circle cx="439.9" cy="588.7" r="1.1" fill="#ea9168"/>
<circle cx="447.9" cy="589.9" r="1.1" fill="#ea9168"/>
<circle cx="454.5" cy="591.8" r="1.1" fill="#ea9168"/>
<circle cx="459.9" cy="587.8" r="1.1" fill="#ea9168"/>
<circle cx="380.2" cy="597.7" r="1.1" fill="#ea9168"/>
<circle cx="386.7" cy="596.7" r="1.1" fill="#ea9168"/>
<circle cx="393.2" cy="595.7" r="1.1" fill="#ea9168"/>
<circle cx="402.8" cy="597.8" r="1.1" fill="#ea9168"/>
<circle cx="410.2" cy="595.5" r="1.1" fill="#ea9168"/>
<circle cx="415.9" cy="595.2" r="1.1" fill="#ea9168"/>
<circle cx="420.9" cy="596.0" r="1.1" fill="#ea9168"/>
<circle cx="431.0" cy="597.5" r="1.1" fill="#ea9168"/>
<circle cx="437.4" cy="598.0" r="1.1" fill="#ea9168"/>
<circle cx="442.5" cy="594.5" r="1.1" fill="#ea9168"/>
<circle cx="450.3" cy="595.0" r="1.1" fill="#ea9168"/>
<circle cx="456.2" cy="595.6" r="1.1" fill="#ea9168"/>
<circle cx="465.1" cy="596.0" r="1.1" fill="#ea9168"/>
<circle cx="382.1" cy="600.0" r="1.1" fill="#ea9168"/>
<circle cx="392.6" cy="600.1" r="1.1" fill="#ea9168"/>
<circle cx="398.9" cy="602.4" r="1.1" fill="#ea9168"/>
<circle cx="404.2" cy="603.4" r="1.1" fill="#ea9168"/>
<circle cx="409.9" cy="600.5" r="1.1" fill="#ea9168"/>
<circle cx="418.8" cy="600.0" r="1.1" fill="#ea9168"/>
<circle cx="427.5" cy="600.9" r="1.1" fill="#ea9168"/>
<circle cx="431.4" cy="600.1" r="1.1" fill="#ea9168"/>
<circle cx="440.6" cy="601.9" r="1.1" fill="#ea9168"/>
<circle cx="447.6" cy="602.8" r="1.1" fill="#ea9168"/>
<circle cx="455.4" cy="604.1" r="1.1" fill="#ea9168"/>
<circle cx="461.8" cy="600.8" r="1.1" fill="#ea9168"/>
<circle cx="388.4" cy="608.3" r="1.1" fill="#ea9168"/>
<circle cx="395.0" cy="609.3" r="1.1" fill="#ea9168"/>
<circle cx="401.0" cy="609.5" r="1.1" fill="#ea9168"/>
<circle cx="410.3" cy="606.4" r="1.1" fill="#ea9168"/>
<circle cx="417.4" cy="609.2" r="1.1" fill="#ea9168"/>
<circle cx="420.9" cy="608.0" r="1.1" fill="#ea9168"/>
<circle cx="430.1" cy="610.0" r="1.1" fill="#ea9168"/>
<circle cx="436.0" cy="608.5" r="1.1" fill="#ea9168"/>
<circle cx="445.2" cy="609.5" r="1.1" fill="#ea9168"/>
<circle cx="452.5" cy="608.0" r="1.1" fill="#ea9168"/>
<circle cx="458.2" cy="606.9" r="1.1" fill="#ea9168"/>
<circle cx="386.1" cy="616.4" r="1.1" fill="#ea9168"/>
<circle cx="391.2" cy="615.5" r="1.1" fill="#ea9168"/>
<circle cx="397.2" cy="616.1" r="1.1" fill="#ea9168"/>
<circle cx="406.6" cy="613.6" r="1.1" fill="#ea9168"/>
<circle cx="410.2" cy="614.0" r="1.1" fill="#ea9168"/>
<circle cx="419.2" cy="615.5" r="1.1" fill="#ea9168"/>
<circle cx="425.9" cy="612.2" r="1.1" fill="#ea9168"/>
<circle cx="434.4" cy="612.4" r="1.1" fill="#ea9168"/>
<circle cx="441.3" cy="612.8" r="1.1" fill="#ea9168"/>
<circle cx="446.3" cy="615.5" r="1.1" fill="#ea9168"/>
<circle cx="452.4" cy="612.7" r="1.1" fill="#ea9168"/>
<circle cx="395.1" cy="620.5" r="1.1" fill="#ea9168"/>
<circle cx="403.0" cy="620.6" r="1.1" fill="#ea9168"/>
<circle cx="407.7" cy="619.8" r="1.1" fill="#ea9168"/>
<circle cx="417.0" cy="622.1" r="1.1" fill="#ea9168"/>
<circle cx="421.2" cy="621.9" r="1.1" fill="#ea9168"/>
<circle cx="431.6" cy="620.5" r="1.1" fill="#ea9168"/>
<circle cx="436.8" cy="619.0" r="1.1" fill="#ea9168"/>
<circle cx="443.7" cy="620.4" r="1.1" fill="#ea9168"/>
<circle cx="451.0" cy="618.3" r="1.1" fill="#ea9168"/>
<circle cx="397.0" cy="626.3" r="1.1" fill="#ea9168"/>
<circle cx="403.4" cy="626.2" r="1.1" fill="#ea9168"/>
<circle cx="413.4" cy="628.2" r="1.1" fill="#ea9168"/>
<circle cx="418.9" cy="625.6" r="1.1" fill="#ea9168"/>
<circle cx="424.6" cy="627.0" r="1.1" fill="#ea9168"/>
<circle cx="434.9" cy="624.8" r="1.1" fill="#ea9168"/>
<circle cx="441.2" cy="624.4" r="1.1" fill="#ea9168"/>
<circle cx="445.7" cy="625.2" r="1.1" fill="#ea9168"/>
<circle cx="409.1" cy="632.7" r="1.1" fill="#ea9168"/>
<circle cx="417.0" cy="633.0" r="1.1" fill="#ea9168"/>
<circle cx="424.1" cy="631.4" r="1.1" fill="#ea9168"/>
<circle cx="430.6" cy="633.9" r="1.1" fill="#ea9168"/>
<circle cx="438.3" cy="631.7" r="1.1" fill="#ea9168"/>
<circle cx="414.1" cy="636.9" r="1.1" fill="#ea9168"/>
<circle cx="431.6" cy="636.7" r="1.1" fill="#ea9168"/>
<path d="M403.0,620.6L397.0,620.5M403.0,620.6L410.1,623.0M403.0,620.6L397.9,619.8M403.0,620.6L400.9,626.2M403.0,620.6L403.4,624.9M403.0,620.6L410.5,616.0M446.3,615.5L442.1,608.3M446.3,615.5L439.2,619.3M446.3,615.5L447.6,623.1M446.3,615.5L438.5,612.1M446.3,615.5L452.8,620.2M446.3,615.5L451.0,620.2M423.7,559.0L427.5,557.8M423.7,559.0L423.9,564.5M423.7,559.0L421.7,562.9M423.7,559.0L430.1,554.1M423.7,559.0L419.1,562.5M423.7,559.0L420.0,556.9M431.4,600.1L439.8,601.7M431.4,600.1L429.1,606.2M431.4,600.1L439.6,596.5M431.4,600.1L426.5,601.0M431.4,600.1L429.0,608.4M431.4,600.1L435.4,597.1M417.6,566.6L420.7,561.7M417.6,566.6L412.9,567.4M417.6,566.6L424.2,560.4M417.6,566.6L419.8,573.4M417.6,566.6L420.7,574.4M417.6,566.6L421.9,568.0M382.1,600.0L381.3,594.5M382.1,600.0L388.9,595.1M382.1,600.0L381.1,595.5M382.1,600.0L379.2,591.8M382.1,600.0L378.0,601.5M382.1,600.0L383.1,605.5M420.9,608.0L419.6,603.1M420.9,608.0L423.0,612.7M420.9,608.0L416.8,601.1M420.9,608.0L415.8,613.2M420.9,608.0L426.1,603.4M420.9,608.0L421.6,613.4M404.2,603.4L410.7,600.1M404.2,603.4L403.0,610.5M404.2,603.4L411.7,608.1M404.2,603.4L398.0,605.8M404.2,603.4L400.0,602.6M404.2,603.4L399.8,600.2M436.8,619.0L436.8,627.1M436.8,619.0L441.5,621.9M436.8,619.0L437.0,613.8M436.8,619.0L435.6,625.7M436.8,619.0L440.1,626.9M436.8,619.0L441.0,618.7M418.7,591.4L411.2,593.2M418.7,591.4L412.3,597.1M418.7,591.4L413.8,591.4M418.7,591.4L412.0,588.9M418.7,591.4L414.1,597.0M418.7,591.4L420.1,585.0M430.1,610.0L421.8,609.7M430.1,610.0L427.4,603.9M430.1,610.0L434.7,608.5M430.1,610.0L430.9,605.2M430.1,610.0L426.0,606.7M430.1,610.0L422.7,612.9M449.8,584.6L451.7,576.9M449.8,584.6L450.4,591.1M449.8,584.6L451.1,591.4M449.8,584.6L445.7,584.7M449.8,584.6L443.6,580.3M449.8,584.6L442.3,580.9M392.6,600.1L394.7,604.4M392.6,600.1L399.1,600.8M392.6,600.1L386.9,602.6M392.6,600.1L392.0,608.0M392.6,600.1L400.3,603.8M392.6,600.1L386.5,597.3M399.4,584.4L400.7,579.4M399.4,584.4L402.8,588.8M399.4,584.4L404.8,585.9M399.4,584.4L394.6,579.8M399.4,584.4L398.8,591.3M399.4,584.4L406.3,588.7M452.5,608.0L454.9,612.7M452.5,608.0L456.5,614.3M452.5,608.0L456.3,601.1M452.5,608.0L458.1,610.3M452.5,608.0L449.1,611.8M452.5,608.0L456.6,607.2M406.6,613.6L398.8,614.1M406.6,613.6L411.3,613.2M406.6,613.6L399.1,615.7M406.6,613.6L411.6,614.9M406.6,613.6L410.2,610.6M406.6,613.6L402.3,617.0M385.4,585.6L381.5,587.6M385.4,585.6L394.2,587.5M385.4,585.6L386.0,578.0M385.4,585.6L386.0,590.8M385.4,585.6L380.4,584.0M417.0,622.1L413.3,626.4M417.0,622.1L424.0,621.3M417.0,622.1L422.8,623.6M417.0,622.1L414.5,618.7M417.0,622.1L412.9,628.4M417.0,622.1L421.6,616.9M417.0,633.0L421.8,628.9M417.0,633.0L410.6,638.2M417.0,633.0L411.2,638.4M417.0,633.0L418.3,638.6M417.0,633.0L419.8,639.2M417.0,633.0L419.6,637.3M441.2,624.4L442.6,630.5M441.2,624.4L439.0,630.2M441.2,624.4L448.6,624.0M441.2,624.4L444.5,620.5M441.2,624.4L438.0,627.3M441.2,624.4L439.1,618.9M438.5,561.0L437.9,565.0M438.5,561.0L440.7,565.8M438.5,561.0L431.8,566.4M438.5,561.0L437.4,555.8M438.5,561.0L435.5,564.6M438.5,561.0L443.9,558.7M403.6,578.7L404.3,571.1M403.6,578.7L407.0,576.4M403.6,578.7L401.0,584.0M403.6,578.7L410.9,582.9M403.6,578.7L400.0,585.7M403.6,578.7L399.3,578.2M431.3,565.2L427.2,568.4M431.3,565.2L435.9,566.4M431.3,565.2L427.9,562.9M431.3,565.2L429.0,570.9M431.3,565.2L426.8,563.9M431.3,565.2L429.9,560.1M452.4,612.7L451.3,605.5M452.4,612.7L455.4,616.7M452.4,612.7L451.0,620.2M452.4,612.7L447.5,616.0M452.4,612.7L455.8,608.9M452.4,612.7L450.9,618.3M430.9,590.4L431.8,594.5M430.9,590.4L438.0,591.5M430.9,590.4L423.6,587.1M430.9,590.4L436.4,589.5M430.9,590.4L426.8,582.8M430.9,590.4L432.5,597.6M407.7,619.8L403.3,612.2M407.7,619.8L411.2,616.0M407.7,619.8L404.7,616.5M407.7,619.8L402.3,622.5M407.7,619.8L413.2,622.0M407.7,619.8L404.6,625.6" stroke="#df7a4c" stroke-width="0.8" fill="none"/>
<circle cx="403.0" cy="620.6" r="1.5" fill="#de7244"/>
<circle cx="446.3" cy="615.5" r="1.5" fill="#de7244"/>
<circle cx="423.7" cy="559.0" r="1.5" fill="#de7244"/>
<circle cx="431.4" cy="600.1" r="1.5" fill="#de7244"/>
<circle cx="417.6" cy="566.6" r="1.5" fill="#de7244"/>
<circle cx="382.1" cy="600.0" r="1.5" fill="#de7244"/>
<circle cx="420.9" cy="608.0" r="1.5" fill="#de7244"/>
<circle cx="404.2" cy="603.4" r="1.5" fill="#de7244"/>
<circle cx="436.8" cy="619.0" r="1.5" fill="#de7244"/>
<circle cx="418.7" cy="591.4" r="1.5" fill="#de7244"/>
<circle cx="430.1" cy="610.0" r="1.5" fill="#de7244"/>
<circle cx="449.8" cy="584.6" r="1.5" fill="#de7244"/>
<circle cx="392.6" cy="600.1" r="1.5" fill="#de7244"/>
<circle cx="399.4" cy="584.4" r="1.5" fill="#de7244"/>
<circle cx="452.5" cy="608.0" r="1.5" fill="#de7244"/>
<circle cx="406.6" cy="613.6" r="1.5" fill="#de7244"/>
<circle cx="385.4" cy="585.6" r="1.5" fill="#de7244"/>
<circle cx="417.0" cy="622.1" r="1.5" fill="#de7244"/>
<circle cx="417.0" cy="633.0" r="1.5" fill="#de7244"/>
<circle cx="441.2" cy="624.4" r="1.5" fill="#de7244"/>
<circle cx="438.5" cy="561.0" r="1.5" fill="#de7244"/>
<circle cx="403.6" cy="578.7" r="1.5" fill="#de7244"/>
<circle cx="431.3" cy="565.2" r="1.5" fill="#de7244"/>
<circle cx="452.4" cy="612.7" r="1.5" fill="#de7244"/>
<circle cx="430.9" cy="590.4" r="1.5" fill="#de7244"/>
<circle cx="407.7" cy="619.8" r="1.5" fill="#de7244"/>
<path d="M447.7,600.2 C447.4,602.8 445.6,605.4 444.3,607.8 C443.0,610.3 441.8,613.2 439.8,614.9 C437.7,616.6 434.7,617.1 432.0,617.9 C429.3,618.7 426.5,620.0 423.8,619.7 C421.2,619.4 418.6,617.6 416.2,616.3 C413.7,615.0 410.8,613.8 409.1,611.8 C407.4,609.7 406.9,606.7 406.1,604.0 C405.3,601.3 404.0,598.5 404.3,595.8 C404.6,593.2 406.4,590.6 407.7,588.2 C409.0,585.7 410.2,582.8 412.2,581.1 C414.3,579.4 417.3,578.9 420.0,578.1 C422.7,577.3 425.5,576.0 428.2,576.3 C430.8,576.6 433.4,578.4 435.8,579.7 C438.3,581.0 441.2,582.2 442.9,584.2 C444.6,586.3 445.1,589.3 445.9,592.0 C446.7,594.7 448.0,597.5 447.7,600.2Z" fill="#d38e72" opacity="0.95"/>
<circle cx="420" cy="594" r="4" fill="#c4aaaa" opacity="0.55"/>
<circle cx="430" cy="600" r="5" fill="#c4aaaa" opacity="0.55"/>
<circle cx="434" cy="590" r="3" fill="#c4aaaa" opacity="0.55"/>
<circle cx="423" cy="607" r="4" fill="#c4aaaa" opacity="0.55"/>
<circle cx="436" cy="608" r="3" fill="#c4aaaa" opacity="0.55"/>
<path d="M424.5,605.8L420.9,608.4M434.2,612.1L434.4,615.4M418.9,608.9L421.7,612.7M421.5,583.8L420.6,580.9M416.6,605.6L420.5,607.2M439.3,602.7L435.5,600.5M421.4,607.0L425.4,607.5M437.7,588.5L437.3,593.5M431.4,610.6L427.0,606.7M416.1,609.5L421.1,607.7M415.0,586.7L411.4,588.9M423.0,616.0L426.0,613.1M429.3,595.9L432.3,599.3M421.7,609.2L425.1,608.7M429.4,606.9L427.8,603.6M440.7,598.1L437.8,600.4M409.9,598.6L405.2,597.2M409.1,591.2L413.0,590.4M415.3,613.5L413.3,618.2M420.4,582.4L425.8,581.2M434.5,611.3L429.8,611.6M418.7,605.8L418.7,601.2M426.8,608.0L425.2,611.1M418.9,597.4L421.9,598.6M439.4,608.1L442.8,610.9M427.9,584.3L430.8,589.0M429.2,594.6L429.1,599.1M429.6,586.0L428.8,582.3M423.6,586.8L420.9,591.4M436.0,582.8L432.1,581.0M421.8,582.8L424.4,578.1M434.7,606.7L432.9,603.5M426.9,600.1L421.9,597.2M433.2,596.6L431.6,592.7M417.5,588.7L422.9,586.3M442.1,603.1L444.4,605.2M422.2,614.7L425.5,614.5M424.4,600.9L420.1,599.7M418.2,605.9L419.9,600.7M423.4,610.2L419.5,606.7M438.4,596.5L436.8,592.2M428.4,590.7L429.9,593.7M435.2,593.9L431.8,594.2M424.8,600.5L421.6,599.1M418.6,590.6L419.2,595.0" stroke="#d9774f" stroke-width="0.7" fill="none"/>
<circle cx="413.3" cy="590.2" r="1.4" fill="#8a4cc0"/>
<path d="M408,388 L411.3,400 L416,394" stroke="#b08ac8" stroke-width="0.6" fill="none" transform="translate(2 190)"/>
<g stroke="#3a3a3a" stroke-width="1.3" stroke-dasharray="3 3" fill="none"><path d="M360,630 L305,650"/><path d="M485,630 L540,650"/></g>
<path d="M143.10,177.17 L144.06,176.74 L144.99,176.28 L145.91,175.83 L146.82,175.39 L147.73,174.97 L148.64,174.56 L149.54,174.17 L150.43,173.80 L151.33,173.45 L152.22,173.12 L153.10,172.80 L153.99,172.50 L154.86,172.22 L155.74,171.96 L156.61,171.71 L157.47,171.49 L158.33,171.28 L159.19,171.08 L160.04,170.91 L160.88,170.75 L161.72,170.61 L162.56,170.48 L163.39,170.38 L164.21,170.29 L165.02,170.21 L165.83,170.16 L166.64,170.11 L167.43,170.09 L168.22,170.08 L169.00,170.09 L169.78,170.11 L170.55,170.15 L171.33,170.21 L172.10,170.28 L172.88,170.36 L173.65,170.47 L174.42,170.58 L175.19,170.72 L175.95,170.86 L176.72,171.03 L177.48,171.20 L178.24,171.40 L178.99,171.60 L179.74,171.82 L180.49,172.06 L181.24,172.31 L181.98,172.58 L182.72,172.85 L183.45,173.15 L184.18,173.45 L184.91,173.77 L185.63,174.11 L186.34,174.46 L187.05,174.82 L187.76,175.19 L188.45,175.58 L189.15,175.98 L189.83,176.40 L190.51,176.82 L191.20,177.27 L192.80,174.73 L192.08,174.29 L191.34,173.86 L190.59,173.44 L189.84,173.04 L189.09,172.65 L188.32,172.27 L187.56,171.91 L186.78,171.56 L186.01,171.23 L185.23,170.92 L184.44,170.62 L183.65,170.33 L182.86,170.06 L182.06,169.80 L181.26,169.56 L180.45,169.34 L179.65,169.13 L178.84,168.94 L178.02,168.76 L177.21,168.60 L176.39,168.46 L175.58,168.33 L174.76,168.22 L173.94,168.13 L173.11,168.05 L172.29,167.99 L171.47,167.94 L170.65,167.91 L169.82,167.90 L169.00,167.91 L168.17,167.94 L167.34,167.98 L166.51,168.04 L165.67,168.11 L164.82,168.21 L163.97,168.32 L163.11,168.45 L162.25,168.60 L161.39,168.77 L160.52,168.95 L159.65,169.16 L158.78,169.38 L157.90,169.62 L157.02,169.88 L156.14,170.16 L155.26,170.46 L154.37,170.78 L153.49,171.11 L152.60,171.47 L151.71,171.85 L150.82,172.24 L149.93,172.66 L149.04,173.09 L148.15,173.55 L147.26,174.03 L146.37,174.53 L145.49,175.05 L144.61,175.60 L143.73,176.18 L142.90,176.83Z" fill="#1a1a1a"/>
<polygon points="198.4,182 194.8,171 187,179.8" fill="#1a1a1a"/>
<path d="M450.41,55.17 L451.35,54.71 L452.25,54.22 L453.14,53.75 L454.03,53.29 L454.91,52.86 L455.80,52.44 L456.68,52.05 L457.56,51.67 L458.43,51.32 L459.31,50.98 L460.18,50.67 L461.05,50.37 L461.92,50.10 L462.78,49.84 L463.64,49.60 L464.50,49.38 L465.35,49.18 L466.20,49.00 L467.04,48.83 L467.89,48.68 L468.72,48.55 L469.55,48.44 L470.38,48.34 L471.20,48.26 L472.02,48.19 L472.83,48.14 L473.63,48.10 L474.43,48.08 L475.22,48.08 L476.00,48.09 L476.77,48.11 L477.55,48.15 L478.32,48.21 L479.09,48.29 L479.87,48.38 L480.64,48.49 L481.40,48.62 L482.17,48.76 L482.94,48.92 L483.70,49.09 L484.46,49.28 L485.22,49.48 L485.98,49.69 L486.73,49.93 L487.48,50.17 L488.23,50.43 L488.97,50.70 L489.71,50.98 L490.45,51.28 L491.18,51.59 L491.91,51.91 L492.63,52.24 L493.35,52.58 L494.06,52.94 L494.77,53.31 L495.48,53.68 L496.17,54.07 L496.86,54.47 L497.55,54.87 L498.24,55.29 L499.76,52.71 L499.04,52.30 L498.31,51.89 L497.57,51.50 L496.82,51.11 L496.07,50.74 L495.31,50.38 L494.55,50.03 L493.78,49.69 L493.00,49.36 L492.23,49.05 L491.44,48.75 L490.66,48.46 L489.86,48.19 L489.07,47.93 L488.27,47.68 L487.47,47.45 L486.66,47.23 L485.85,47.03 L485.04,46.84 L484.22,46.67 L483.41,46.52 L482.59,46.38 L481.77,46.26 L480.95,46.16 L480.12,46.07 L479.30,46.00 L478.48,45.95 L477.65,45.92 L476.83,45.91 L476.00,45.91 L475.18,45.94 L474.35,45.98 L473.51,46.03 L472.67,46.10 L471.83,46.19 L470.98,46.29 L470.13,46.42 L469.27,46.56 L468.41,46.71 L467.54,46.89 L466.68,47.08 L465.81,47.30 L464.93,47.53 L464.06,47.78 L463.18,48.05 L462.31,48.34 L461.43,48.65 L460.55,48.99 L459.67,49.34 L458.79,49.72 L457.92,50.11 L457.04,50.53 L456.17,50.97 L455.29,51.44 L454.42,51.93 L453.56,52.45 L452.70,52.99 L451.84,53.56 L451.00,54.16 L450.19,54.83Z" fill="#1a1a1a"/>
<polygon points="505.4,59 502,49.8 495,57.5" fill="#1a1a1a"/>
<path d="M466.12,218.86 L467.39,218.11 L468.65,217.33 L469.91,216.58 L471.18,215.85 L472.47,215.14 L473.76,214.46 L475.07,213.81 L476.38,213.19 L477.69,212.59 L479.01,212.02 L480.33,211.48 L481.66,210.96 L482.98,210.48 L484.31,210.02 L485.63,209.59 L486.94,209.18 L488.25,208.81 L489.55,208.47 L490.84,208.15 L492.13,207.86 L493.40,207.60 L494.65,207.37 L495.89,207.17 L497.11,206.99 L498.32,206.85 L499.50,206.73 L500.66,206.65 L501.80,206.59 L502.91,206.56 L503.98,206.56 L505.33,206.64 L506.68,206.76 L508.01,206.92 L509.34,207.10 L510.65,207.32 L511.95,207.57 L513.23,207.86 L514.51,208.17 L515.77,208.52 L517.02,208.89 L518.26,209.30 L519.49,209.73 L520.71,210.19 L521.92,210.68 L523.12,211.19 L524.30,211.73 L525.48,212.30 L526.66,212.89 L527.82,213.50 L528.97,214.14 L530.12,214.80 L531.25,215.48 L532.38,216.19 L533.50,216.92 L534.62,217.66 L535.72,218.43 L536.82,219.22 L537.92,220.02 L539.00,220.85 L540.09,221.69 L541.91,219.31 L540.79,218.47 L539.66,217.65 L538.51,216.84 L537.37,216.05 L536.21,215.28 L535.04,214.53 L533.87,213.80 L532.68,213.10 L531.49,212.41 L530.29,211.75 L529.08,211.11 L527.86,210.50 L526.63,209.91 L525.39,209.35 L524.13,208.81 L522.87,208.30 L521.60,207.82 L520.32,207.37 L519.03,206.95 L517.72,206.55 L516.41,206.19 L515.08,205.86 L513.74,205.56 L512.39,205.30 L511.03,205.07 L509.65,204.87 L508.27,204.71 L506.87,204.58 L505.46,204.49 L504.02,204.44 L502.86,204.47 L501.70,204.53 L500.51,204.62 L499.30,204.74 L498.08,204.90 L496.84,205.08 L495.58,205.29 L494.31,205.54 L493.02,205.81 L491.73,206.12 L490.42,206.45 L489.10,206.82 L487.78,207.21 L486.46,207.63 L485.12,208.09 L483.79,208.57 L482.46,209.09 L481.13,209.63 L479.80,210.20 L478.47,210.80 L477.15,211.43 L475.84,212.10 L474.54,212.79 L473.24,213.51 L471.97,214.26 L470.70,215.04 L469.46,215.85 L468.23,216.70 L467.03,217.58 L465.88,218.54Z" fill="#1a1a1a"/>
<polygon points="547.4,226.3 544.2,217 537.2,223.8" fill="#1a1a1a"/>
<path d="M271.04,181.30 L273.51,181.01 L275.88,180.59 L278.16,180.07 L280.35,179.45 L282.44,178.74 L284.45,177.94 L286.36,177.05 L288.18,176.08 L289.92,175.03 L291.57,173.91 L293.14,172.71 L294.62,171.44 L296.02,170.10 L297.34,168.70 L298.58,167.24 L299.74,165.72 L300.83,164.14 L301.84,162.52 L302.78,160.84 L303.64,159.12 L304.44,157.36 L305.17,155.56 L305.83,153.72 L306.42,151.84 L306.96,149.94 L307.43,148.01 L307.83,146.06 L308.18,144.08 L308.48,142.08 L308.71,140.08 L308.95,138.13 L309.26,136.25 L309.62,134.43 L310.05,132.67 L310.54,130.98 L311.09,129.35 L311.70,127.79 L312.36,126.29 L313.08,124.85 L313.86,123.48 L314.70,122.17 L315.58,120.93 L316.53,119.75 L317.52,118.64 L318.56,117.59 L319.66,116.61 L320.81,115.69 L322.00,114.84 L323.25,114.06 L324.54,113.34 L325.88,112.69 L327.27,112.10 L328.70,111.59 L330.19,111.14 L331.71,110.76 L333.28,110.45 L334.90,110.20 L336.56,110.03 L338.26,109.93 L340.02,109.90 L339.98,108.10 L338.18,108.14 L336.41,108.26 L334.67,108.45 L332.98,108.72 L331.33,109.06 L329.72,109.47 L328.16,109.96 L326.64,110.51 L325.17,111.14 L323.76,111.84 L322.39,112.62 L321.07,113.46 L319.80,114.37 L318.59,115.36 L317.44,116.41 L316.33,117.53 L315.29,118.71 L314.30,119.97 L313.38,121.29 L312.51,122.67 L311.70,124.12 L310.95,125.63 L310.27,127.20 L309.65,128.84 L309.09,130.54 L308.60,132.30 L308.17,134.11 L307.81,135.99 L307.51,137.93 L307.29,139.92 L307.07,141.90 L306.80,143.86 L306.47,145.80 L306.09,147.71 L305.65,149.61 L305.14,151.47 L304.58,153.30 L303.95,155.10 L303.26,156.86 L302.50,158.58 L301.68,160.26 L300.78,161.90 L299.82,163.49 L298.78,165.03 L297.67,166.51 L296.48,167.94 L295.22,169.31 L293.88,170.63 L292.45,171.87 L290.95,173.06 L289.36,174.17 L287.68,175.21 L285.92,176.18 L284.07,177.07 L282.12,177.88 L280.08,178.61 L277.95,179.26 L275.72,179.82 L273.39,180.29 L270.96,180.70Z" fill="#1a1a1a"/>
<polygon points="349.3,108.8 338.7,103.1 339.2,114.5" fill="#1a1a1a"/>
<path d="M270.98,192.30 L273.33,192.51 L275.57,192.79 L277.74,193.18 L279.81,193.65 L281.80,194.22 L283.70,194.89 L285.52,195.65 L287.26,196.50 L288.91,197.44 L290.49,198.46 L291.98,199.57 L293.39,200.77 L294.73,202.05 L295.99,203.41 L297.18,204.85 L298.29,206.37 L299.32,207.97 L300.28,209.64 L301.17,211.39 L301.99,213.21 L302.73,215.10 L303.40,217.06 L304.00,219.08 L304.53,221.18 L305.00,223.33 L305.39,225.56 L305.71,227.84 L305.97,230.18 L306.16,232.58 L306.28,235.04 L306.41,237.31 L306.61,239.49 L306.89,241.57 L307.24,243.57 L307.67,245.47 L308.16,247.28 L308.73,249.00 L309.37,250.64 L310.09,252.19 L310.87,253.66 L311.73,255.04 L312.65,256.34 L313.65,257.55 L314.71,258.69 L315.84,259.74 L317.04,260.72 L318.30,261.61 L319.62,262.43 L321.00,263.18 L322.45,263.85 L323.95,264.45 L325.51,264.98 L327.13,265.44 L328.81,265.83 L330.54,266.16 L332.32,266.43 L334.16,266.63 L336.06,266.78 L338.00,266.87 L339.99,266.90 L340.01,265.10 L338.05,265.08 L336.16,265.01 L334.32,264.87 L332.54,264.69 L330.82,264.44 L329.16,264.14 L327.56,263.77 L326.01,263.34 L324.53,262.85 L323.11,262.30 L321.75,261.68 L320.45,260.99 L319.21,260.23 L318.03,259.41 L316.91,258.51 L315.85,257.53 L314.86,256.49 L313.92,255.36 L313.05,254.15 L312.24,252.86 L311.49,251.49 L310.81,250.03 L310.18,248.47 L309.63,246.83 L309.14,245.10 L308.72,243.27 L308.36,241.34 L308.08,239.32 L307.86,237.19 L307.72,234.96 L307.57,232.48 L307.36,230.04 L307.08,227.66 L306.73,225.34 L306.31,223.07 L305.82,220.87 L305.25,218.73 L304.62,216.66 L303.91,214.66 L303.13,212.72 L302.27,210.86 L301.33,209.06 L300.33,207.35 L299.24,205.71 L298.07,204.15 L296.83,202.67 L295.51,201.27 L294.11,199.97 L292.63,198.74 L291.07,197.61 L289.43,196.57 L287.71,195.63 L285.91,194.77 L284.03,194.02 L282.06,193.37 L280.02,192.82 L277.89,192.37 L275.68,192.03 L273.39,191.80 L271.02,191.70Z" fill="#1a1a1a"/>
<polygon points="348.6,266 339,260.5 339,272.2" fill="#1a1a1a"/>
<path d="M581.98,104.30 L584.24,104.50 L586.42,104.77 L588.53,105.12 L590.57,105.55 L592.54,106.06 L594.45,106.66 L596.28,107.34 L598.05,108.10 L599.74,108.94 L601.37,109.85 L602.93,110.84 L604.41,111.90 L605.83,113.04 L607.18,114.24 L608.47,115.52 L609.68,116.86 L610.82,118.27 L611.89,119.75 L612.90,121.29 L613.83,122.89 L614.70,124.56 L615.49,126.28 L616.22,128.06 L616.87,129.90 L617.45,131.80 L617.96,133.75 L618.41,135.75 L618.77,137.81 L619.07,139.91 L619.30,142.07 L619.53,144.44 L619.83,146.75 L620.20,148.98 L620.65,151.13 L621.17,153.20 L621.75,155.19 L622.40,157.11 L623.12,158.94 L623.90,160.70 L624.75,162.37 L625.66,163.97 L626.64,165.49 L627.67,166.93 L628.76,168.29 L629.91,169.57 L631.12,170.76 L632.38,171.88 L633.69,172.91 L635.05,173.86 L636.47,174.73 L637.93,175.52 L639.44,176.23 L641.00,176.85 L642.60,177.39 L644.23,177.85 L645.91,178.22 L647.63,178.51 L649.39,178.72 L651.18,178.85 L652.98,178.90 L653.02,177.10 L651.26,177.07 L649.55,176.96 L647.88,176.77 L646.25,176.50 L644.65,176.15 L643.10,175.73 L641.59,175.23 L640.12,174.65 L638.69,174.00 L637.31,173.27 L635.97,172.46 L634.68,171.57 L633.43,170.60 L632.24,169.56 L631.09,168.43 L629.99,167.23 L628.95,165.95 L627.96,164.59 L627.02,163.15 L626.14,161.63 L625.31,160.02 L624.54,158.34 L623.84,156.57 L623.19,154.73 L622.61,152.80 L622.10,150.79 L621.64,148.70 L621.26,146.53 L620.95,144.28 L620.70,141.93 L620.45,139.74 L620.13,137.58 L619.74,135.48 L619.27,133.43 L618.72,131.43 L618.11,129.49 L617.42,127.60 L616.65,125.77 L615.82,124.00 L614.91,122.29 L613.93,120.65 L612.87,119.07 L611.75,117.55 L610.55,116.11 L609.28,114.73 L607.95,113.43 L606.54,112.20 L605.06,111.04 L603.51,109.96 L601.89,108.96 L600.20,108.04 L598.45,107.21 L596.63,106.45 L594.74,105.79 L592.78,105.20 L590.76,104.71 L588.67,104.31 L586.52,104.00 L584.30,103.79 L582.02,103.70Z" fill="#1a1a1a"/>
<polygon points="661.4,178 652.2,172.2 652.2,183.7" fill="#1a1a1a"/>
<path d="M586.05,270.30 L587.95,270.00 L589.82,269.58 L591.64,269.07 L593.42,268.47 L595.15,267.78 L596.84,267.00 L598.49,266.14 L600.08,265.19 L601.63,264.17 L603.13,263.07 L604.57,261.89 L605.97,260.64 L607.31,259.32 L608.59,257.93 L609.82,256.48 L610.99,254.96 L612.10,253.38 L613.15,251.73 L614.14,250.03 L615.07,248.27 L615.94,246.46 L616.74,244.60 L617.48,242.69 L618.15,240.73 L618.75,238.72 L619.28,236.67 L619.75,234.57 L620.14,232.44 L620.46,230.27 L620.71,228.08 L620.95,225.93 L621.25,223.89 L621.62,221.93 L622.05,220.06 L622.54,218.28 L623.09,216.58 L623.70,214.96 L624.36,213.42 L625.08,211.97 L625.86,210.59 L626.69,209.29 L627.58,208.07 L628.52,206.92 L629.51,205.85 L630.55,204.85 L631.64,203.93 L632.78,203.07 L633.98,202.28 L635.22,201.56 L636.51,200.91 L637.85,200.32 L639.24,199.80 L640.67,199.35 L642.16,198.95 L643.69,198.62 L645.26,198.36 L646.88,198.15 L648.54,198.01 L650.25,197.92 L652.02,197.90 L651.98,196.10 L650.19,196.14 L648.42,196.24 L646.69,196.40 L645.00,196.62 L643.35,196.91 L641.75,197.27 L640.19,197.70 L638.67,198.19 L637.21,198.75 L635.79,199.39 L634.41,200.09 L633.09,200.87 L631.83,201.72 L630.61,202.65 L629.45,203.65 L628.35,204.72 L627.30,205.87 L626.31,207.10 L625.38,208.40 L624.51,209.78 L623.70,211.24 L622.95,212.77 L622.27,214.39 L621.65,216.08 L621.09,217.85 L620.60,219.70 L620.17,221.64 L619.81,223.65 L619.52,225.75 L619.29,227.92 L619.06,230.10 L618.77,232.22 L618.40,234.31 L617.97,236.36 L617.46,238.36 L616.89,240.33 L616.26,242.25 L615.56,244.13 L614.79,245.95 L613.97,247.73 L613.08,249.45 L612.13,251.12 L611.12,252.73 L610.06,254.28 L608.93,255.77 L607.75,257.20 L606.52,258.57 L605.23,259.87 L603.89,261.10 L602.50,262.27 L601.06,263.36 L599.57,264.38 L598.03,265.32 L596.44,266.19 L594.80,266.97 L593.12,267.68 L591.39,268.31 L589.62,268.85 L587.81,269.31 L585.95,269.70Z" fill="#1a1a1a"/>
<polygon points="661.4,197 651.4,192 651.4,203.2" fill="#1a1a1a"/>
<path d="M697.87,286.93 L694.85,292.64 L691.59,298.27 L688.08,303.80 L684.29,309.24 L680.23,314.56 L675.91,319.77 L671.33,324.85 L666.48,329.81 L661.37,334.65 L655.99,339.34 L650.37,343.89 L644.48,348.30 L638.34,352.55 L631.95,356.64 L625.31,360.57 L618.42,364.33 L611.28,367.91 L603.90,371.32 L596.27,374.54 L588.41,377.56 L580.30,380.39 L571.96,383.02 L563.39,385.43 L554.58,387.64 L545.54,389.62 L536.27,391.38 L526.77,392.91 L517.05,394.20 L507.10,395.25 L496.92,396.05 L497.08,397.95 L507.28,397.10 L517.27,396.00 L527.03,394.66 L536.57,393.09 L545.88,391.28 L554.96,389.24 L563.80,386.99 L572.42,384.52 L580.79,381.84 L588.92,378.96 L596.82,375.88 L604.47,372.60 L611.87,369.14 L619.03,365.50 L625.94,361.68 L632.60,357.69 L639.00,353.54 L645.15,349.22 L651.04,344.76 L656.67,340.14 L662.04,335.38 L667.15,330.49 L671.98,325.47 L676.55,320.31 L680.85,315.04 L684.87,309.66 L688.62,304.17 L692.09,298.57 L695.27,292.87 L698.13,287.07Z" fill="#1a1a1a"/>
<polygon points="492,396.8 500.8,392.6 498.2,397 500.8,400.8" fill="#1a1a1a"/>
<path d="M355.98,403.85 L348.72,404.83 L341.19,405.63 L333.42,406.18 L325.43,406.49 L317.24,406.54 L308.89,406.31 L300.40,405.80 L291.79,405.00 L283.11,403.90 L274.36,402.49 L265.59,400.76 L256.81,398.70 L248.06,396.30 L239.37,393.56 L230.76,390.45 L222.25,386.98 L213.89,383.13 L205.68,378.89 L197.67,374.27 L189.88,369.23 L182.33,363.79 L175.06,357.92 L168.09,351.62 L161.44,344.87 L155.16,337.68 L149.25,330.03 L143.75,321.90 L138.69,313.30 L134.09,304.21 L129.96,294.58 L128.04,295.42 L132.22,305.08 L136.92,314.27 L142.08,322.96 L147.68,331.16 L153.70,338.88 L160.09,346.13 L166.84,352.92 L173.92,359.26 L181.29,365.16 L188.94,370.62 L196.82,375.66 L204.93,380.29 L213.21,384.52 L221.66,388.35 L230.24,391.80 L238.93,394.88 L247.69,397.59 L256.50,399.95 L265.33,401.97 L274.16,403.65 L282.95,405.01 L291.68,406.06 L300.33,406.80 L308.85,407.24 L317.24,407.40 L325.45,407.28 L333.47,406.89 L341.25,406.24 L348.78,405.34 L356.02,404.15Z" fill="#1a1a1a"/>
<polygon points="126.6,290.9 134.2,295.5 127.2,299.6" fill="#1a1a1a"/>
<g font-size="25">
<text id="t1" x="160.0" y="89.6" textLength="124.0" lengthAdjust="spacingAndGlyphs">Omentum</text>
<text id="t2" x="154.0" y="125.5" textLength="136.5" lengthAdjust="spacingAndGlyphs">Fatty tissue</text>
<text id="t3" x="361.3" y="21.6" textLength="96.0" lengthAdjust="spacingAndGlyphs">Stromal</text>
<text id="t4" x="383.0" y="57.9" textLength="52.5" lengthAdjust="spacingAndGlyphs">cells</text>
<text id="t5" x="512.6" y="64.6" textLength="62.1" lengthAdjust="spacingAndGlyphs">iPSCs</text>
<text id="t6" x="392.4" y="223.7" textLength="55.5" lengthAdjust="spacingAndGlyphs">ECM</text>
<text id="t7" x="516.6" y="322.8" textLength="107.3" lengthAdjust="spacingAndGlyphs">Hydrogel</text>
<text id="t8" x="649.6" y="249.3" textLength="111.3" lengthAdjust="spacingAndGlyphs">Stem cell</text>
<text id="t9" x="658.6" y="285.5" textLength="93.8" lengthAdjust="spacingAndGlyphs">implant</text>
<text id="t10" x="144.8" y="435.5" textLength="157.0" lengthAdjust="spacingAndGlyphs">Implantation</text>
<text id="t11" x="529.2" y="435.6" textLength="178.2" lengthAdjust="spacingAndGlyphs">Differentiation</text>
<text id="t12" x="294.8" y="503.9" textLength="235.8" lengthAdjust="spacingAndGlyphs">Spinal cord implant</text>
</g>
<text id="ta" x="14.2" y="64.3" font-size="27" font-weight="bold" textLength="13" lengthAdjust="spacingAndGlyphs">a</text>
<text id="tb" x="13.2" y="574.2" font-size="28" font-weight="bold">b</text>
</svg>
</body></html>
